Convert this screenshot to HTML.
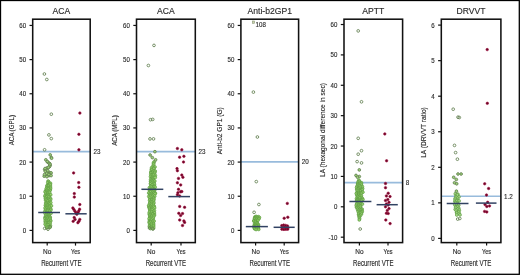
<!DOCTYPE html><html><head><meta charset="utf-8"><style>html,body{margin:0;padding:0;background:#fff;overflow:hidden;width:520px;height:275px;}svg{display:block;will-change:transform;}text{font-family:"Liberation Sans", sans-serif;}</style></head><body>
<svg width="520" height="275" viewBox="0 0 520 275">
<rect x="0" y="0" width="520" height="275" fill="#fff"/>
<text transform="translate(61.45,13.90) scale(1.000,1)" font-size="8.60" text-anchor="middle" fill="#2a2a2a" stroke="#2a2a2a" stroke-width="0.14" >ACA</text>
<line x1="32.7" x2="90.2" y1="151.6" y2="151.6" stroke="#98bbdc" stroke-width="1.6"/>
<text transform="translate(93.40,154.10) scale(0.900,1)" font-size="7.00" text-anchor="start" fill="#2a2a2a" stroke="#2a2a2a" stroke-width="0.14" >23</text>
<circle cx="48.1" cy="181.1" r="1.45" fill="#99d46f" stroke="#58953c" stroke-width="0.6"/>
<circle cx="48.6" cy="181.7" r="1.45" fill="#99d46f" stroke="#58953c" stroke-width="0.6"/>
<circle cx="47.8" cy="182.8" r="1.45" fill="#99d46f" stroke="#58953c" stroke-width="0.6"/>
<circle cx="49.2" cy="183.4" r="1.45" fill="#99d46f" stroke="#58953c" stroke-width="0.6"/>
<circle cx="50.5" cy="183.3" r="1.45" fill="#99d46f" stroke="#58953c" stroke-width="0.6"/>
<circle cx="48.2" cy="184.6" r="1.45" fill="#99d46f" stroke="#58953c" stroke-width="0.6"/>
<circle cx="49.9" cy="184.1" r="1.45" fill="#99d46f" stroke="#58953c" stroke-width="0.6"/>
<circle cx="47.0" cy="185.6" r="1.45" fill="#99d46f" stroke="#58953c" stroke-width="0.6"/>
<circle cx="48.7" cy="185.5" r="1.45" fill="#99d46f" stroke="#58953c" stroke-width="0.6"/>
<circle cx="50.4" cy="185.0" r="1.45" fill="#99d46f" stroke="#58953c" stroke-width="0.6"/>
<circle cx="47.0" cy="186.4" r="1.45" fill="#99d46f" stroke="#58953c" stroke-width="0.6"/>
<circle cx="48.5" cy="186.4" r="1.45" fill="#99d46f" stroke="#58953c" stroke-width="0.6"/>
<circle cx="50.3" cy="186.6" r="1.45" fill="#99d46f" stroke="#58953c" stroke-width="0.6"/>
<circle cx="47.0" cy="187.8" r="1.45" fill="#99d46f" stroke="#58953c" stroke-width="0.6"/>
<circle cx="48.9" cy="187.9" r="1.45" fill="#99d46f" stroke="#58953c" stroke-width="0.6"/>
<circle cx="50.4" cy="187.7" r="1.45" fill="#99d46f" stroke="#58953c" stroke-width="0.6"/>
<circle cx="46.2" cy="188.7" r="1.45" fill="#99d46f" stroke="#58953c" stroke-width="0.6"/>
<circle cx="48.7" cy="188.9" r="1.45" fill="#99d46f" stroke="#58953c" stroke-width="0.6"/>
<circle cx="50.5" cy="188.7" r="1.45" fill="#99d46f" stroke="#58953c" stroke-width="0.6"/>
<circle cx="46.5" cy="190.1" r="1.45" fill="#99d46f" stroke="#58953c" stroke-width="0.6"/>
<circle cx="48.2" cy="189.3" r="1.45" fill="#99d46f" stroke="#58953c" stroke-width="0.6"/>
<circle cx="50.2" cy="190.1" r="1.45" fill="#99d46f" stroke="#58953c" stroke-width="0.6"/>
<circle cx="45.6" cy="190.9" r="1.45" fill="#99d46f" stroke="#58953c" stroke-width="0.6"/>
<circle cx="47.0" cy="190.5" r="1.45" fill="#99d46f" stroke="#58953c" stroke-width="0.6"/>
<circle cx="48.1" cy="191.0" r="1.45" fill="#99d46f" stroke="#58953c" stroke-width="0.6"/>
<circle cx="49.7" cy="190.7" r="1.45" fill="#99d46f" stroke="#58953c" stroke-width="0.6"/>
<circle cx="45.1" cy="191.9" r="1.45" fill="#99d46f" stroke="#58953c" stroke-width="0.6"/>
<circle cx="47.6" cy="192.2" r="1.45" fill="#99d46f" stroke="#58953c" stroke-width="0.6"/>
<circle cx="48.9" cy="191.8" r="1.45" fill="#99d46f" stroke="#58953c" stroke-width="0.6"/>
<circle cx="46.1" cy="192.7" r="1.45" fill="#99d46f" stroke="#58953c" stroke-width="0.6"/>
<circle cx="47.7" cy="193.0" r="1.45" fill="#99d46f" stroke="#58953c" stroke-width="0.6"/>
<circle cx="49.6" cy="192.6" r="1.45" fill="#99d46f" stroke="#58953c" stroke-width="0.6"/>
<circle cx="45.6" cy="194.4" r="1.45" fill="#99d46f" stroke="#58953c" stroke-width="0.6"/>
<circle cx="47.5" cy="194.1" r="1.45" fill="#99d46f" stroke="#58953c" stroke-width="0.6"/>
<circle cx="49.2" cy="194.4" r="1.45" fill="#99d46f" stroke="#58953c" stroke-width="0.6"/>
<circle cx="46.5" cy="195.1" r="1.45" fill="#99d46f" stroke="#58953c" stroke-width="0.6"/>
<circle cx="47.6" cy="195.2" r="1.45" fill="#99d46f" stroke="#58953c" stroke-width="0.6"/>
<circle cx="49.0" cy="194.9" r="1.45" fill="#99d46f" stroke="#58953c" stroke-width="0.6"/>
<circle cx="50.7" cy="194.8" r="1.45" fill="#99d46f" stroke="#58953c" stroke-width="0.6"/>
<circle cx="44.9" cy="196.1" r="1.45" fill="#99d46f" stroke="#58953c" stroke-width="0.6"/>
<circle cx="46.8" cy="196.3" r="1.45" fill="#99d46f" stroke="#58953c" stroke-width="0.6"/>
<circle cx="47.8" cy="196.1" r="1.45" fill="#99d46f" stroke="#58953c" stroke-width="0.6"/>
<circle cx="49.3" cy="196.5" r="1.45" fill="#99d46f" stroke="#58953c" stroke-width="0.6"/>
<circle cx="45.6" cy="197.0" r="1.45" fill="#99d46f" stroke="#58953c" stroke-width="0.6"/>
<circle cx="46.9" cy="197.1" r="1.45" fill="#99d46f" stroke="#58953c" stroke-width="0.6"/>
<circle cx="48.9" cy="196.9" r="1.45" fill="#99d46f" stroke="#58953c" stroke-width="0.6"/>
<circle cx="45.4" cy="198.4" r="1.45" fill="#99d46f" stroke="#58953c" stroke-width="0.6"/>
<circle cx="47.1" cy="198.8" r="1.45" fill="#99d46f" stroke="#58953c" stroke-width="0.6"/>
<circle cx="49.4" cy="198.2" r="1.45" fill="#99d46f" stroke="#58953c" stroke-width="0.6"/>
<circle cx="50.6" cy="198.6" r="1.45" fill="#99d46f" stroke="#58953c" stroke-width="0.6"/>
<circle cx="45.9" cy="199.3" r="1.45" fill="#99d46f" stroke="#58953c" stroke-width="0.6"/>
<circle cx="48.6" cy="199.8" r="1.45" fill="#99d46f" stroke="#58953c" stroke-width="0.6"/>
<circle cx="50.6" cy="199.7" r="1.45" fill="#99d46f" stroke="#58953c" stroke-width="0.6"/>
<circle cx="45.6" cy="200.2" r="1.45" fill="#99d46f" stroke="#58953c" stroke-width="0.6"/>
<circle cx="46.8" cy="200.4" r="1.45" fill="#99d46f" stroke="#58953c" stroke-width="0.6"/>
<circle cx="49.4" cy="200.5" r="1.45" fill="#99d46f" stroke="#58953c" stroke-width="0.6"/>
<circle cx="46.7" cy="201.6" r="1.45" fill="#99d46f" stroke="#58953c" stroke-width="0.6"/>
<circle cx="47.7" cy="201.4" r="1.45" fill="#99d46f" stroke="#58953c" stroke-width="0.6"/>
<circle cx="49.5" cy="202.0" r="1.45" fill="#99d46f" stroke="#58953c" stroke-width="0.6"/>
<circle cx="45.7" cy="203.0" r="1.45" fill="#99d46f" stroke="#58953c" stroke-width="0.6"/>
<circle cx="47.1" cy="203.1" r="1.45" fill="#99d46f" stroke="#58953c" stroke-width="0.6"/>
<circle cx="49.3" cy="202.7" r="1.45" fill="#99d46f" stroke="#58953c" stroke-width="0.6"/>
<circle cx="50.8" cy="202.6" r="1.45" fill="#99d46f" stroke="#58953c" stroke-width="0.6"/>
<circle cx="46.2" cy="203.8" r="1.45" fill="#99d46f" stroke="#58953c" stroke-width="0.6"/>
<circle cx="48.8" cy="203.6" r="1.45" fill="#99d46f" stroke="#58953c" stroke-width="0.6"/>
<circle cx="49.7" cy="204.2" r="1.45" fill="#99d46f" stroke="#58953c" stroke-width="0.6"/>
<circle cx="45.4" cy="205.3" r="1.45" fill="#99d46f" stroke="#58953c" stroke-width="0.6"/>
<circle cx="47.0" cy="205.0" r="1.45" fill="#99d46f" stroke="#58953c" stroke-width="0.6"/>
<circle cx="48.1" cy="205.3" r="1.45" fill="#99d46f" stroke="#58953c" stroke-width="0.6"/>
<circle cx="50.5" cy="205.3" r="1.45" fill="#99d46f" stroke="#58953c" stroke-width="0.6"/>
<circle cx="46.4" cy="205.8" r="1.45" fill="#99d46f" stroke="#58953c" stroke-width="0.6"/>
<circle cx="47.5" cy="205.8" r="1.45" fill="#99d46f" stroke="#58953c" stroke-width="0.6"/>
<circle cx="49.4" cy="205.9" r="1.45" fill="#99d46f" stroke="#58953c" stroke-width="0.6"/>
<circle cx="51.4" cy="205.9" r="1.45" fill="#99d46f" stroke="#58953c" stroke-width="0.6"/>
<circle cx="46.0" cy="207.0" r="1.45" fill="#99d46f" stroke="#58953c" stroke-width="0.6"/>
<circle cx="48.0" cy="207.1" r="1.45" fill="#99d46f" stroke="#58953c" stroke-width="0.6"/>
<circle cx="49.4" cy="207.1" r="1.45" fill="#99d46f" stroke="#58953c" stroke-width="0.6"/>
<circle cx="45.1" cy="207.9" r="1.45" fill="#99d46f" stroke="#58953c" stroke-width="0.6"/>
<circle cx="46.8" cy="208.2" r="1.45" fill="#99d46f" stroke="#58953c" stroke-width="0.6"/>
<circle cx="48.3" cy="208.2" r="1.45" fill="#99d46f" stroke="#58953c" stroke-width="0.6"/>
<circle cx="50.1" cy="208.2" r="1.45" fill="#99d46f" stroke="#58953c" stroke-width="0.6"/>
<circle cx="45.5" cy="209.3" r="1.45" fill="#99d46f" stroke="#58953c" stroke-width="0.6"/>
<circle cx="47.3" cy="209.6" r="1.45" fill="#99d46f" stroke="#58953c" stroke-width="0.6"/>
<circle cx="49.0" cy="209.3" r="1.45" fill="#99d46f" stroke="#58953c" stroke-width="0.6"/>
<circle cx="50.9" cy="209.2" r="1.45" fill="#99d46f" stroke="#58953c" stroke-width="0.6"/>
<circle cx="45.9" cy="210.5" r="1.45" fill="#99d46f" stroke="#58953c" stroke-width="0.6"/>
<circle cx="48.1" cy="210.2" r="1.45" fill="#99d46f" stroke="#58953c" stroke-width="0.6"/>
<circle cx="50.0" cy="210.6" r="1.45" fill="#99d46f" stroke="#58953c" stroke-width="0.6"/>
<circle cx="50.7" cy="210.3" r="1.45" fill="#99d46f" stroke="#58953c" stroke-width="0.6"/>
<circle cx="44.8" cy="211.6" r="1.45" fill="#99d46f" stroke="#58953c" stroke-width="0.6"/>
<circle cx="47.6" cy="211.2" r="1.45" fill="#99d46f" stroke="#58953c" stroke-width="0.6"/>
<circle cx="49.4" cy="211.2" r="1.45" fill="#99d46f" stroke="#58953c" stroke-width="0.6"/>
<circle cx="46.0" cy="212.9" r="1.45" fill="#99d46f" stroke="#58953c" stroke-width="0.6"/>
<circle cx="47.9" cy="212.9" r="1.45" fill="#99d46f" stroke="#58953c" stroke-width="0.6"/>
<circle cx="49.8" cy="212.5" r="1.45" fill="#99d46f" stroke="#58953c" stroke-width="0.6"/>
<circle cx="45.1" cy="213.5" r="1.45" fill="#99d46f" stroke="#58953c" stroke-width="0.6"/>
<circle cx="47.0" cy="213.7" r="1.45" fill="#99d46f" stroke="#58953c" stroke-width="0.6"/>
<circle cx="48.7" cy="213.5" r="1.45" fill="#99d46f" stroke="#58953c" stroke-width="0.6"/>
<circle cx="51.0" cy="213.3" r="1.45" fill="#99d46f" stroke="#58953c" stroke-width="0.6"/>
<circle cx="46.3" cy="214.4" r="1.45" fill="#99d46f" stroke="#58953c" stroke-width="0.6"/>
<circle cx="47.2" cy="214.9" r="1.45" fill="#99d46f" stroke="#58953c" stroke-width="0.6"/>
<circle cx="48.8" cy="214.7" r="1.45" fill="#99d46f" stroke="#58953c" stroke-width="0.6"/>
<circle cx="45.8" cy="215.5" r="1.45" fill="#99d46f" stroke="#58953c" stroke-width="0.6"/>
<circle cx="48.3" cy="216.0" r="1.45" fill="#99d46f" stroke="#58953c" stroke-width="0.6"/>
<circle cx="49.3" cy="216.0" r="1.45" fill="#99d46f" stroke="#58953c" stroke-width="0.6"/>
<circle cx="45.3" cy="217.0" r="1.45" fill="#99d46f" stroke="#58953c" stroke-width="0.6"/>
<circle cx="46.8" cy="217.2" r="1.45" fill="#99d46f" stroke="#58953c" stroke-width="0.6"/>
<circle cx="48.8" cy="216.9" r="1.45" fill="#99d46f" stroke="#58953c" stroke-width="0.6"/>
<circle cx="50.2" cy="217.2" r="1.45" fill="#99d46f" stroke="#58953c" stroke-width="0.6"/>
<circle cx="45.1" cy="217.8" r="1.45" fill="#99d46f" stroke="#58953c" stroke-width="0.6"/>
<circle cx="46.3" cy="217.6" r="1.45" fill="#99d46f" stroke="#58953c" stroke-width="0.6"/>
<circle cx="47.9" cy="217.8" r="1.45" fill="#99d46f" stroke="#58953c" stroke-width="0.6"/>
<circle cx="49.9" cy="218.0" r="1.45" fill="#99d46f" stroke="#58953c" stroke-width="0.6"/>
<circle cx="45.1" cy="218.9" r="1.45" fill="#99d46f" stroke="#58953c" stroke-width="0.6"/>
<circle cx="47.0" cy="219.1" r="1.45" fill="#99d46f" stroke="#58953c" stroke-width="0.6"/>
<circle cx="48.3" cy="219.4" r="1.45" fill="#99d46f" stroke="#58953c" stroke-width="0.6"/>
<circle cx="50.0" cy="219.0" r="1.45" fill="#99d46f" stroke="#58953c" stroke-width="0.6"/>
<circle cx="46.1" cy="220.2" r="1.45" fill="#99d46f" stroke="#58953c" stroke-width="0.6"/>
<circle cx="48.6" cy="220.0" r="1.45" fill="#99d46f" stroke="#58953c" stroke-width="0.6"/>
<circle cx="50.5" cy="220.3" r="1.45" fill="#99d46f" stroke="#58953c" stroke-width="0.6"/>
<circle cx="45.2" cy="220.9" r="1.45" fill="#99d46f" stroke="#58953c" stroke-width="0.6"/>
<circle cx="47.1" cy="221.0" r="1.45" fill="#99d46f" stroke="#58953c" stroke-width="0.6"/>
<circle cx="48.1" cy="221.5" r="1.45" fill="#99d46f" stroke="#58953c" stroke-width="0.6"/>
<circle cx="50.7" cy="221.1" r="1.45" fill="#99d46f" stroke="#58953c" stroke-width="0.6"/>
<circle cx="45.5" cy="222.1" r="1.45" fill="#99d46f" stroke="#58953c" stroke-width="0.6"/>
<circle cx="47.1" cy="222.7" r="1.45" fill="#99d46f" stroke="#58953c" stroke-width="0.6"/>
<circle cx="49.6" cy="222.1" r="1.45" fill="#99d46f" stroke="#58953c" stroke-width="0.6"/>
<circle cx="45.6" cy="223.0" r="1.45" fill="#99d46f" stroke="#58953c" stroke-width="0.6"/>
<circle cx="47.4" cy="223.4" r="1.45" fill="#99d46f" stroke="#58953c" stroke-width="0.6"/>
<circle cx="48.9" cy="223.0" r="1.45" fill="#99d46f" stroke="#58953c" stroke-width="0.6"/>
<circle cx="50.1" cy="223.3" r="1.45" fill="#99d46f" stroke="#58953c" stroke-width="0.6"/>
<circle cx="45.2" cy="224.3" r="1.45" fill="#99d46f" stroke="#58953c" stroke-width="0.6"/>
<circle cx="47.3" cy="224.7" r="1.45" fill="#99d46f" stroke="#58953c" stroke-width="0.6"/>
<circle cx="49.4" cy="224.8" r="1.45" fill="#99d46f" stroke="#58953c" stroke-width="0.6"/>
<circle cx="46.3" cy="225.3" r="1.45" fill="#99d46f" stroke="#58953c" stroke-width="0.6"/>
<circle cx="48.1" cy="225.2" r="1.45" fill="#99d46f" stroke="#58953c" stroke-width="0.6"/>
<circle cx="50.4" cy="225.7" r="1.45" fill="#99d46f" stroke="#58953c" stroke-width="0.6"/>
<circle cx="46.5" cy="226.7" r="1.45" fill="#99d46f" stroke="#58953c" stroke-width="0.6"/>
<circle cx="48.8" cy="226.9" r="1.45" fill="#99d46f" stroke="#58953c" stroke-width="0.6"/>
<circle cx="46.8" cy="227.9" r="1.45" fill="#99d46f" stroke="#58953c" stroke-width="0.6"/>
<circle cx="48.3" cy="227.4" r="1.45" fill="#99d46f" stroke="#58953c" stroke-width="0.6"/>
<circle cx="49.9" cy="227.4" r="1.45" fill="#99d46f" stroke="#58953c" stroke-width="0.6"/>
<circle cx="44.4" cy="74.0" r="1.35" fill="none" stroke="#627f50" stroke-width="0.85"/>
<circle cx="46.8" cy="79.5" r="1.35" fill="none" stroke="#627f50" stroke-width="0.85"/>
<circle cx="51.3" cy="114.2" r="1.35" fill="none" stroke="#627f50" stroke-width="0.85"/>
<circle cx="48.9" cy="134.9" r="1.35" fill="none" stroke="#627f50" stroke-width="0.85"/>
<circle cx="51.3" cy="138.6" r="1.35" fill="none" stroke="#627f50" stroke-width="0.85"/>
<circle cx="44.6" cy="149.8" r="1.35" fill="none" stroke="#627f50" stroke-width="0.85"/>
<circle cx="50.2" cy="154.9" r="1.35" fill="#9fd27b" stroke="#627f50" stroke-width="0.85"/>
<circle cx="51.3" cy="157.6" r="1.35" fill="#9fd27b" stroke="#627f50" stroke-width="0.85"/>
<circle cx="45.8" cy="159.8" r="1.35" fill="#9fd27b" stroke="#627f50" stroke-width="0.85"/>
<circle cx="47.5" cy="162.0" r="1.35" fill="#9fd27b" stroke="#627f50" stroke-width="0.85"/>
<circle cx="49.6" cy="163.6" r="1.35" fill="#9fd27b" stroke="#627f50" stroke-width="0.85"/>
<circle cx="50.2" cy="165.3" r="1.35" fill="#9fd27b" stroke="#627f50" stroke-width="0.85"/>
<circle cx="49.1" cy="166.9" r="1.35" fill="#9fd27b" stroke="#627f50" stroke-width="0.85"/>
<circle cx="46.9" cy="168.0" r="1.35" fill="#9fd27b" stroke="#627f50" stroke-width="0.85"/>
<circle cx="44.7" cy="169.6" r="1.35" fill="#9fd27b" stroke="#627f50" stroke-width="0.85"/>
<circle cx="45.3" cy="171.3" r="1.35" fill="#9fd27b" stroke="#627f50" stroke-width="0.85"/>
<circle cx="48.0" cy="171.8" r="1.35" fill="#9fd27b" stroke="#627f50" stroke-width="0.85"/>
<circle cx="50.2" cy="172.9" r="1.35" fill="#9fd27b" stroke="#627f50" stroke-width="0.85"/>
<circle cx="46.4" cy="174.0" r="1.35" fill="#9fd27b" stroke="#627f50" stroke-width="0.85"/>
<circle cx="44.2" cy="176.2" r="1.35" fill="#9fd27b" stroke="#627f50" stroke-width="0.85"/>
<circle cx="49.1" cy="175.6" r="1.35" fill="#9fd27b" stroke="#627f50" stroke-width="0.85"/>
<circle cx="46.9" cy="176.7" r="1.35" fill="#9fd27b" stroke="#627f50" stroke-width="0.85"/>
<circle cx="44.7" cy="228.4" r="1.35" fill="none" stroke="#627f50" stroke-width="0.85"/>
<circle cx="48.0" cy="229.2" r="1.35" fill="none" stroke="#627f50" stroke-width="0.85"/>
<circle cx="50.2" cy="226.8" r="1.35" fill="none" stroke="#627f50" stroke-width="0.85"/>
<circle cx="51.6" cy="158.2" r="1.35" fill="#9fd27b" stroke="#627f50" stroke-width="0.85"/>
<circle cx="48.9" cy="163.1" r="1.35" fill="#9fd27b" stroke="#627f50" stroke-width="0.85"/>
<circle cx="50.0" cy="164.2" r="1.35" fill="#9fd27b" stroke="#627f50" stroke-width="0.85"/>
<circle cx="49.5" cy="166.4" r="1.35" fill="#9fd27b" stroke="#627f50" stroke-width="0.85"/>
<circle cx="48.4" cy="167.4" r="1.35" fill="#9fd27b" stroke="#627f50" stroke-width="0.85"/>
<circle cx="45.1" cy="168.5" r="1.35" fill="#9fd27b" stroke="#627f50" stroke-width="0.85"/>
<circle cx="47.8" cy="170.7" r="1.35" fill="#9fd27b" stroke="#627f50" stroke-width="0.85"/>
<circle cx="51.1" cy="172.9" r="1.35" fill="#9fd27b" stroke="#627f50" stroke-width="0.85"/>
<circle cx="46.7" cy="173.4" r="1.35" fill="#9fd27b" stroke="#627f50" stroke-width="0.85"/>
<circle cx="44.5" cy="174.5" r="1.35" fill="#9fd27b" stroke="#627f50" stroke-width="0.85"/>
<circle cx="48.9" cy="174.5" r="1.35" fill="#9fd27b" stroke="#627f50" stroke-width="0.85"/>
<circle cx="51.1" cy="175.6" r="1.35" fill="#9fd27b" stroke="#627f50" stroke-width="0.85"/>
<circle cx="47.3" cy="161.5" r="1.35" fill="#9fd27b" stroke="#627f50" stroke-width="0.85"/>
<circle cx="79.9" cy="113.1" r="1.25" fill="#6a0726" stroke="#a30f40" stroke-width="0.6"/>
<circle cx="78.9" cy="134.3" r="1.25" fill="#6a0726" stroke="#a30f40" stroke-width="0.6"/>
<circle cx="78.9" cy="149.8" r="1.25" fill="#6a0726" stroke="#a30f40" stroke-width="0.6"/>
<circle cx="73.6" cy="172.9" r="1.25" fill="#6a0726" stroke="#a30f40" stroke-width="0.6"/>
<circle cx="78.7" cy="182.6" r="1.25" fill="#6a0726" stroke="#a30f40" stroke-width="0.6"/>
<circle cx="78.9" cy="187.3" r="1.25" fill="#6a0726" stroke="#a30f40" stroke-width="0.6"/>
<circle cx="74.3" cy="193.6" r="1.25" fill="#6a0726" stroke="#a30f40" stroke-width="0.6"/>
<circle cx="74.3" cy="197.1" r="1.25" fill="#6a0726" stroke="#a30f40" stroke-width="0.6"/>
<circle cx="79.8" cy="204.5" r="1.25" fill="#6a0726" stroke="#a30f40" stroke-width="0.6"/>
<circle cx="72.9" cy="208.0" r="1.25" fill="#6a0726" stroke="#a30f40" stroke-width="0.6"/>
<circle cx="73.9" cy="209.6" r="1.25" fill="#6a0726" stroke="#a30f40" stroke-width="0.6"/>
<circle cx="75.0" cy="211.2" r="1.25" fill="#6a0726" stroke="#a30f40" stroke-width="0.6"/>
<circle cx="76.0" cy="212.8" r="1.25" fill="#6a0726" stroke="#a30f40" stroke-width="0.6"/>
<circle cx="76.8" cy="214.2" r="1.25" fill="#6a0726" stroke="#a30f40" stroke-width="0.6"/>
<circle cx="79.6" cy="209.2" r="1.25" fill="#6a0726" stroke="#a30f40" stroke-width="0.6"/>
<circle cx="78.8" cy="210.9" r="1.25" fill="#6a0726" stroke="#a30f40" stroke-width="0.6"/>
<circle cx="78.0" cy="212.6" r="1.25" fill="#6a0726" stroke="#a30f40" stroke-width="0.6"/>
<circle cx="74.2" cy="217.5" r="1.25" fill="#6a0726" stroke="#a30f40" stroke-width="0.6"/>
<circle cx="73.2" cy="221.3" r="1.25" fill="#6a0726" stroke="#a30f40" stroke-width="0.6"/>
<circle cx="75.1" cy="219.4" r="1.25" fill="#6a0726" stroke="#a30f40" stroke-width="0.6"/>
<circle cx="79.8" cy="219.4" r="1.25" fill="#6a0726" stroke="#a30f40" stroke-width="0.6"/>
<circle cx="77.9" cy="222.7" r="1.25" fill="#6a0726" stroke="#a30f40" stroke-width="0.6"/>
<circle cx="78.9" cy="221.3" r="1.25" fill="#6a0726" stroke="#a30f40" stroke-width="0.6"/>
<line x1="38.2" x2="60.0" y1="212.5" y2="212.5" stroke="#314262" stroke-width="1.5"/>
<line x1="65.4" x2="86.7" y1="213.8" y2="213.8" stroke="#314262" stroke-width="1.5"/>
<rect x="32.70" y="19.20" width="57.50" height="223.40" fill="none" stroke="#111" stroke-width="1.55"/>
<line x1="29.5" x2="32.7" y1="230.40" y2="230.40" stroke="#111" stroke-width="1.2"/>
<text transform="translate(26.10,232.95) scale(0.860,1)" font-size="7.10" text-anchor="end" fill="#2a2a2a" stroke="#2a2a2a" stroke-width="0.14" >0</text>
<line x1="29.5" x2="32.7" y1="196.24" y2="196.24" stroke="#111" stroke-width="1.2"/>
<text transform="translate(26.10,198.79) scale(0.860,1)" font-size="7.10" text-anchor="end" fill="#2a2a2a" stroke="#2a2a2a" stroke-width="0.14" >10</text>
<line x1="29.5" x2="32.7" y1="162.08" y2="162.08" stroke="#111" stroke-width="1.2"/>
<text transform="translate(26.10,164.63) scale(0.860,1)" font-size="7.10" text-anchor="end" fill="#2a2a2a" stroke="#2a2a2a" stroke-width="0.14" >20</text>
<line x1="29.5" x2="32.7" y1="127.92" y2="127.92" stroke="#111" stroke-width="1.2"/>
<text transform="translate(26.10,130.47) scale(0.860,1)" font-size="7.10" text-anchor="end" fill="#2a2a2a" stroke="#2a2a2a" stroke-width="0.14" >30</text>
<line x1="29.5" x2="32.7" y1="93.76" y2="93.76" stroke="#111" stroke-width="1.2"/>
<text transform="translate(26.10,96.31) scale(0.860,1)" font-size="7.10" text-anchor="end" fill="#2a2a2a" stroke="#2a2a2a" stroke-width="0.14" >40</text>
<line x1="29.5" x2="32.7" y1="59.60" y2="59.60" stroke="#111" stroke-width="1.2"/>
<text transform="translate(26.10,62.15) scale(0.860,1)" font-size="7.10" text-anchor="end" fill="#2a2a2a" stroke="#2a2a2a" stroke-width="0.14" >50</text>
<line x1="29.5" x2="32.7" y1="25.44" y2="25.44" stroke="#111" stroke-width="1.2"/>
<text transform="translate(26.10,27.99) scale(0.860,1)" font-size="7.10" text-anchor="end" fill="#2a2a2a" stroke="#2a2a2a" stroke-width="0.14" >60</text>
<line x1="47.2" x2="47.2" y1="242.6" y2="245.6" stroke="#111" stroke-width="1.2"/>
<text transform="translate(47.20,254.45) scale(1.000,1)" font-size="6.60" text-anchor="middle" fill="#2a2a2a" stroke="#2a2a2a" stroke-width="0.14" textLength="8.3" lengthAdjust="spacingAndGlyphs">No</text>
<line x1="75.5" x2="75.5" y1="242.6" y2="245.6" stroke="#111" stroke-width="1.2"/>
<text transform="translate(75.50,254.45) scale(1.000,1)" font-size="6.60" text-anchor="middle" fill="#2a2a2a" stroke="#2a2a2a" stroke-width="0.14" textLength="9.0" lengthAdjust="spacingAndGlyphs">Yes</text>
<text transform="translate(61.45,266.00) scale(1.000,1)" font-size="8.50" text-anchor="middle" fill="#2a2a2a" stroke="#2a2a2a" stroke-width="0.14" textLength="40.5" lengthAdjust="spacingAndGlyphs">Recurrent VTE</text>
<text transform="translate(14.3,130.2) rotate(-90)" x="0" y="0" font-size="7.5" text-anchor="middle" textLength="30.3" lengthAdjust="spacingAndGlyphs" fill="#2a2a2a" stroke="#2a2a2a" stroke-width="0.14">ACA (GPL)</text>
<text transform="translate(165.90,13.90) scale(1.000,1)" font-size="8.60" text-anchor="middle" fill="#2a2a2a" stroke="#2a2a2a" stroke-width="0.14" >ACA</text>
<line x1="136.5" x2="195.3" y1="151.6" y2="151.6" stroke="#98bbdc" stroke-width="1.6"/>
<text transform="translate(198.50,154.10) scale(0.900,1)" font-size="7.00" text-anchor="start" fill="#2a2a2a" stroke="#2a2a2a" stroke-width="0.14" >23</text>
<circle cx="154.4" cy="161.6" r="1.45" fill="#99d46f" stroke="#58953c" stroke-width="0.6"/>
<circle cx="153.5" cy="162.8" r="1.45" fill="#99d46f" stroke="#58953c" stroke-width="0.6"/>
<circle cx="153.7" cy="163.8" r="1.45" fill="#99d46f" stroke="#58953c" stroke-width="0.6"/>
<circle cx="153.5" cy="164.4" r="1.45" fill="#99d46f" stroke="#58953c" stroke-width="0.6"/>
<circle cx="153.2" cy="166.0" r="1.45" fill="#99d46f" stroke="#58953c" stroke-width="0.6"/>
<circle cx="152.7" cy="166.9" r="1.45" fill="#99d46f" stroke="#58953c" stroke-width="0.6"/>
<circle cx="155.0" cy="167.0" r="1.45" fill="#99d46f" stroke="#58953c" stroke-width="0.6"/>
<circle cx="151.6" cy="167.8" r="1.45" fill="#99d46f" stroke="#58953c" stroke-width="0.6"/>
<circle cx="153.8" cy="168.1" r="1.45" fill="#99d46f" stroke="#58953c" stroke-width="0.6"/>
<circle cx="151.4" cy="169.3" r="1.45" fill="#99d46f" stroke="#58953c" stroke-width="0.6"/>
<circle cx="153.8" cy="168.9" r="1.45" fill="#99d46f" stroke="#58953c" stroke-width="0.6"/>
<circle cx="151.9" cy="169.9" r="1.45" fill="#99d46f" stroke="#58953c" stroke-width="0.6"/>
<circle cx="153.9" cy="170.6" r="1.45" fill="#99d46f" stroke="#58953c" stroke-width="0.6"/>
<circle cx="151.0" cy="171.5" r="1.45" fill="#99d46f" stroke="#58953c" stroke-width="0.6"/>
<circle cx="153.3" cy="171.1" r="1.45" fill="#99d46f" stroke="#58953c" stroke-width="0.6"/>
<circle cx="155.2" cy="171.1" r="1.45" fill="#99d46f" stroke="#58953c" stroke-width="0.6"/>
<circle cx="151.0" cy="172.7" r="1.45" fill="#99d46f" stroke="#58953c" stroke-width="0.6"/>
<circle cx="152.7" cy="172.4" r="1.45" fill="#99d46f" stroke="#58953c" stroke-width="0.6"/>
<circle cx="154.8" cy="172.2" r="1.45" fill="#99d46f" stroke="#58953c" stroke-width="0.6"/>
<circle cx="151.0" cy="173.1" r="1.45" fill="#99d46f" stroke="#58953c" stroke-width="0.6"/>
<circle cx="153.1" cy="173.3" r="1.45" fill="#99d46f" stroke="#58953c" stroke-width="0.6"/>
<circle cx="154.5" cy="173.3" r="1.45" fill="#99d46f" stroke="#58953c" stroke-width="0.6"/>
<circle cx="150.8" cy="174.8" r="1.45" fill="#99d46f" stroke="#58953c" stroke-width="0.6"/>
<circle cx="152.3" cy="174.7" r="1.45" fill="#99d46f" stroke="#58953c" stroke-width="0.6"/>
<circle cx="154.0" cy="174.4" r="1.45" fill="#99d46f" stroke="#58953c" stroke-width="0.6"/>
<circle cx="152.0" cy="175.5" r="1.45" fill="#99d46f" stroke="#58953c" stroke-width="0.6"/>
<circle cx="153.5" cy="175.3" r="1.45" fill="#99d46f" stroke="#58953c" stroke-width="0.6"/>
<circle cx="155.3" cy="175.5" r="1.45" fill="#99d46f" stroke="#58953c" stroke-width="0.6"/>
<circle cx="150.5" cy="176.7" r="1.45" fill="#99d46f" stroke="#58953c" stroke-width="0.6"/>
<circle cx="152.1" cy="177.1" r="1.45" fill="#99d46f" stroke="#58953c" stroke-width="0.6"/>
<circle cx="154.7" cy="176.8" r="1.45" fill="#99d46f" stroke="#58953c" stroke-width="0.6"/>
<circle cx="151.7" cy="178.0" r="1.45" fill="#99d46f" stroke="#58953c" stroke-width="0.6"/>
<circle cx="153.2" cy="177.8" r="1.45" fill="#99d46f" stroke="#58953c" stroke-width="0.6"/>
<circle cx="155.2" cy="177.6" r="1.45" fill="#99d46f" stroke="#58953c" stroke-width="0.6"/>
<circle cx="151.2" cy="178.9" r="1.45" fill="#99d46f" stroke="#58953c" stroke-width="0.6"/>
<circle cx="153.0" cy="179.1" r="1.45" fill="#99d46f" stroke="#58953c" stroke-width="0.6"/>
<circle cx="150.6" cy="179.8" r="1.45" fill="#99d46f" stroke="#58953c" stroke-width="0.6"/>
<circle cx="152.2" cy="179.7" r="1.45" fill="#99d46f" stroke="#58953c" stroke-width="0.6"/>
<circle cx="153.6" cy="180.3" r="1.45" fill="#99d46f" stroke="#58953c" stroke-width="0.6"/>
<circle cx="150.6" cy="181.5" r="1.45" fill="#99d46f" stroke="#58953c" stroke-width="0.6"/>
<circle cx="151.8" cy="180.8" r="1.45" fill="#99d46f" stroke="#58953c" stroke-width="0.6"/>
<circle cx="153.3" cy="180.7" r="1.45" fill="#99d46f" stroke="#58953c" stroke-width="0.6"/>
<circle cx="154.8" cy="181.1" r="1.45" fill="#99d46f" stroke="#58953c" stroke-width="0.6"/>
<circle cx="150.9" cy="182.1" r="1.45" fill="#99d46f" stroke="#58953c" stroke-width="0.6"/>
<circle cx="152.7" cy="182.0" r="1.45" fill="#99d46f" stroke="#58953c" stroke-width="0.6"/>
<circle cx="154.0" cy="182.5" r="1.45" fill="#99d46f" stroke="#58953c" stroke-width="0.6"/>
<circle cx="150.6" cy="183.5" r="1.45" fill="#99d46f" stroke="#58953c" stroke-width="0.6"/>
<circle cx="151.9" cy="183.0" r="1.45" fill="#99d46f" stroke="#58953c" stroke-width="0.6"/>
<circle cx="153.7" cy="183.6" r="1.45" fill="#99d46f" stroke="#58953c" stroke-width="0.6"/>
<circle cx="150.6" cy="184.0" r="1.45" fill="#99d46f" stroke="#58953c" stroke-width="0.6"/>
<circle cx="153.3" cy="184.3" r="1.45" fill="#99d46f" stroke="#58953c" stroke-width="0.6"/>
<circle cx="154.5" cy="184.3" r="1.45" fill="#99d46f" stroke="#58953c" stroke-width="0.6"/>
<circle cx="151.1" cy="185.8" r="1.45" fill="#99d46f" stroke="#58953c" stroke-width="0.6"/>
<circle cx="152.0" cy="185.1" r="1.45" fill="#99d46f" stroke="#58953c" stroke-width="0.6"/>
<circle cx="154.3" cy="185.8" r="1.45" fill="#99d46f" stroke="#58953c" stroke-width="0.6"/>
<circle cx="150.7" cy="186.5" r="1.45" fill="#99d46f" stroke="#58953c" stroke-width="0.6"/>
<circle cx="151.9" cy="186.7" r="1.45" fill="#99d46f" stroke="#58953c" stroke-width="0.6"/>
<circle cx="154.2" cy="186.6" r="1.45" fill="#99d46f" stroke="#58953c" stroke-width="0.6"/>
<circle cx="149.4" cy="187.7" r="1.45" fill="#99d46f" stroke="#58953c" stroke-width="0.6"/>
<circle cx="151.3" cy="187.3" r="1.45" fill="#99d46f" stroke="#58953c" stroke-width="0.6"/>
<circle cx="153.5" cy="187.5" r="1.45" fill="#99d46f" stroke="#58953c" stroke-width="0.6"/>
<circle cx="155.1" cy="187.2" r="1.45" fill="#99d46f" stroke="#58953c" stroke-width="0.6"/>
<circle cx="150.4" cy="188.8" r="1.45" fill="#99d46f" stroke="#58953c" stroke-width="0.6"/>
<circle cx="152.2" cy="188.5" r="1.45" fill="#99d46f" stroke="#58953c" stroke-width="0.6"/>
<circle cx="154.1" cy="188.9" r="1.45" fill="#99d46f" stroke="#58953c" stroke-width="0.6"/>
<circle cx="149.3" cy="189.9" r="1.45" fill="#99d46f" stroke="#58953c" stroke-width="0.6"/>
<circle cx="150.8" cy="189.9" r="1.45" fill="#99d46f" stroke="#58953c" stroke-width="0.6"/>
<circle cx="153.0" cy="189.4" r="1.45" fill="#99d46f" stroke="#58953c" stroke-width="0.6"/>
<circle cx="154.8" cy="189.9" r="1.45" fill="#99d46f" stroke="#58953c" stroke-width="0.6"/>
<circle cx="150.5" cy="190.9" r="1.45" fill="#99d46f" stroke="#58953c" stroke-width="0.6"/>
<circle cx="152.2" cy="190.7" r="1.45" fill="#99d46f" stroke="#58953c" stroke-width="0.6"/>
<circle cx="153.7" cy="190.6" r="1.45" fill="#99d46f" stroke="#58953c" stroke-width="0.6"/>
<circle cx="149.8" cy="191.9" r="1.45" fill="#99d46f" stroke="#58953c" stroke-width="0.6"/>
<circle cx="150.8" cy="191.9" r="1.45" fill="#99d46f" stroke="#58953c" stroke-width="0.6"/>
<circle cx="153.3" cy="191.7" r="1.45" fill="#99d46f" stroke="#58953c" stroke-width="0.6"/>
<circle cx="154.4" cy="192.3" r="1.45" fill="#99d46f" stroke="#58953c" stroke-width="0.6"/>
<circle cx="148.7" cy="193.0" r="1.45" fill="#99d46f" stroke="#58953c" stroke-width="0.6"/>
<circle cx="151.6" cy="193.2" r="1.45" fill="#99d46f" stroke="#58953c" stroke-width="0.6"/>
<circle cx="153.9" cy="192.9" r="1.45" fill="#99d46f" stroke="#58953c" stroke-width="0.6"/>
<circle cx="155.4" cy="193.2" r="1.45" fill="#99d46f" stroke="#58953c" stroke-width="0.6"/>
<circle cx="149.7" cy="194.0" r="1.45" fill="#99d46f" stroke="#58953c" stroke-width="0.6"/>
<circle cx="151.2" cy="193.7" r="1.45" fill="#99d46f" stroke="#58953c" stroke-width="0.6"/>
<circle cx="152.9" cy="194.5" r="1.45" fill="#99d46f" stroke="#58953c" stroke-width="0.6"/>
<circle cx="154.9" cy="193.9" r="1.45" fill="#99d46f" stroke="#58953c" stroke-width="0.6"/>
<circle cx="150.2" cy="195.2" r="1.45" fill="#99d46f" stroke="#58953c" stroke-width="0.6"/>
<circle cx="151.3" cy="195.1" r="1.45" fill="#99d46f" stroke="#58953c" stroke-width="0.6"/>
<circle cx="153.3" cy="195.1" r="1.45" fill="#99d46f" stroke="#58953c" stroke-width="0.6"/>
<circle cx="148.8" cy="196.5" r="1.45" fill="#99d46f" stroke="#58953c" stroke-width="0.6"/>
<circle cx="150.6" cy="195.9" r="1.45" fill="#99d46f" stroke="#58953c" stroke-width="0.6"/>
<circle cx="152.6" cy="196.1" r="1.45" fill="#99d46f" stroke="#58953c" stroke-width="0.6"/>
<circle cx="154.7" cy="196.2" r="1.45" fill="#99d46f" stroke="#58953c" stroke-width="0.6"/>
<circle cx="150.3" cy="197.2" r="1.45" fill="#99d46f" stroke="#58953c" stroke-width="0.6"/>
<circle cx="152.1" cy="197.2" r="1.45" fill="#99d46f" stroke="#58953c" stroke-width="0.6"/>
<circle cx="153.7" cy="197.7" r="1.45" fill="#99d46f" stroke="#58953c" stroke-width="0.6"/>
<circle cx="149.8" cy="198.3" r="1.45" fill="#99d46f" stroke="#58953c" stroke-width="0.6"/>
<circle cx="152.3" cy="198.8" r="1.45" fill="#99d46f" stroke="#58953c" stroke-width="0.6"/>
<circle cx="153.5" cy="198.4" r="1.45" fill="#99d46f" stroke="#58953c" stroke-width="0.6"/>
<circle cx="149.9" cy="199.8" r="1.45" fill="#99d46f" stroke="#58953c" stroke-width="0.6"/>
<circle cx="152.5" cy="199.8" r="1.45" fill="#99d46f" stroke="#58953c" stroke-width="0.6"/>
<circle cx="154.0" cy="199.4" r="1.45" fill="#99d46f" stroke="#58953c" stroke-width="0.6"/>
<circle cx="149.6" cy="200.4" r="1.45" fill="#99d46f" stroke="#58953c" stroke-width="0.6"/>
<circle cx="151.8" cy="200.3" r="1.45" fill="#99d46f" stroke="#58953c" stroke-width="0.6"/>
<circle cx="153.4" cy="200.5" r="1.45" fill="#99d46f" stroke="#58953c" stroke-width="0.6"/>
<circle cx="150.5" cy="201.5" r="1.45" fill="#99d46f" stroke="#58953c" stroke-width="0.6"/>
<circle cx="151.1" cy="201.7" r="1.45" fill="#99d46f" stroke="#58953c" stroke-width="0.6"/>
<circle cx="153.5" cy="201.5" r="1.45" fill="#99d46f" stroke="#58953c" stroke-width="0.6"/>
<circle cx="149.8" cy="203.0" r="1.45" fill="#99d46f" stroke="#58953c" stroke-width="0.6"/>
<circle cx="152.0" cy="202.5" r="1.45" fill="#99d46f" stroke="#58953c" stroke-width="0.6"/>
<circle cx="153.9" cy="202.9" r="1.45" fill="#99d46f" stroke="#58953c" stroke-width="0.6"/>
<circle cx="149.6" cy="203.7" r="1.45" fill="#99d46f" stroke="#58953c" stroke-width="0.6"/>
<circle cx="151.1" cy="204.2" r="1.45" fill="#99d46f" stroke="#58953c" stroke-width="0.6"/>
<circle cx="153.2" cy="203.8" r="1.45" fill="#99d46f" stroke="#58953c" stroke-width="0.6"/>
<circle cx="149.3" cy="205.2" r="1.45" fill="#99d46f" stroke="#58953c" stroke-width="0.6"/>
<circle cx="151.9" cy="204.7" r="1.45" fill="#99d46f" stroke="#58953c" stroke-width="0.6"/>
<circle cx="153.5" cy="205.3" r="1.45" fill="#99d46f" stroke="#58953c" stroke-width="0.6"/>
<circle cx="148.7" cy="205.8" r="1.45" fill="#99d46f" stroke="#58953c" stroke-width="0.6"/>
<circle cx="150.7" cy="206.2" r="1.45" fill="#99d46f" stroke="#58953c" stroke-width="0.6"/>
<circle cx="152.5" cy="206.4" r="1.45" fill="#99d46f" stroke="#58953c" stroke-width="0.6"/>
<circle cx="154.2" cy="206.3" r="1.45" fill="#99d46f" stroke="#58953c" stroke-width="0.6"/>
<circle cx="149.0" cy="207.3" r="1.45" fill="#99d46f" stroke="#58953c" stroke-width="0.6"/>
<circle cx="150.4" cy="206.9" r="1.45" fill="#99d46f" stroke="#58953c" stroke-width="0.6"/>
<circle cx="151.8" cy="207.3" r="1.45" fill="#99d46f" stroke="#58953c" stroke-width="0.6"/>
<circle cx="153.7" cy="206.8" r="1.45" fill="#99d46f" stroke="#58953c" stroke-width="0.6"/>
<circle cx="149.5" cy="208.1" r="1.45" fill="#99d46f" stroke="#58953c" stroke-width="0.6"/>
<circle cx="151.5" cy="208.3" r="1.45" fill="#99d46f" stroke="#58953c" stroke-width="0.6"/>
<circle cx="152.3" cy="208.2" r="1.45" fill="#99d46f" stroke="#58953c" stroke-width="0.6"/>
<circle cx="154.6" cy="207.9" r="1.45" fill="#99d46f" stroke="#58953c" stroke-width="0.6"/>
<circle cx="149.7" cy="209.2" r="1.45" fill="#99d46f" stroke="#58953c" stroke-width="0.6"/>
<circle cx="151.8" cy="209.2" r="1.45" fill="#99d46f" stroke="#58953c" stroke-width="0.6"/>
<circle cx="153.2" cy="209.3" r="1.45" fill="#99d46f" stroke="#58953c" stroke-width="0.6"/>
<circle cx="150.1" cy="210.2" r="1.45" fill="#99d46f" stroke="#58953c" stroke-width="0.6"/>
<circle cx="152.1" cy="210.0" r="1.45" fill="#99d46f" stroke="#58953c" stroke-width="0.6"/>
<circle cx="154.4" cy="210.7" r="1.45" fill="#99d46f" stroke="#58953c" stroke-width="0.6"/>
<circle cx="150.0" cy="211.3" r="1.45" fill="#99d46f" stroke="#58953c" stroke-width="0.6"/>
<circle cx="151.4" cy="211.6" r="1.45" fill="#99d46f" stroke="#58953c" stroke-width="0.6"/>
<circle cx="153.3" cy="211.6" r="1.45" fill="#99d46f" stroke="#58953c" stroke-width="0.6"/>
<circle cx="149.3" cy="212.4" r="1.45" fill="#99d46f" stroke="#58953c" stroke-width="0.6"/>
<circle cx="151.7" cy="212.3" r="1.45" fill="#99d46f" stroke="#58953c" stroke-width="0.6"/>
<circle cx="153.4" cy="213.0" r="1.45" fill="#99d46f" stroke="#58953c" stroke-width="0.6"/>
<circle cx="154.4" cy="213.0" r="1.45" fill="#99d46f" stroke="#58953c" stroke-width="0.6"/>
<circle cx="149.2" cy="214.0" r="1.45" fill="#99d46f" stroke="#58953c" stroke-width="0.6"/>
<circle cx="151.6" cy="213.8" r="1.45" fill="#99d46f" stroke="#58953c" stroke-width="0.6"/>
<circle cx="153.1" cy="213.9" r="1.45" fill="#99d46f" stroke="#58953c" stroke-width="0.6"/>
<circle cx="149.7" cy="215.1" r="1.45" fill="#99d46f" stroke="#58953c" stroke-width="0.6"/>
<circle cx="150.7" cy="214.7" r="1.45" fill="#99d46f" stroke="#58953c" stroke-width="0.6"/>
<circle cx="152.7" cy="214.5" r="1.45" fill="#99d46f" stroke="#58953c" stroke-width="0.6"/>
<circle cx="154.5" cy="215.1" r="1.45" fill="#99d46f" stroke="#58953c" stroke-width="0.6"/>
<circle cx="149.9" cy="215.5" r="1.45" fill="#99d46f" stroke="#58953c" stroke-width="0.6"/>
<circle cx="151.6" cy="216.0" r="1.45" fill="#99d46f" stroke="#58953c" stroke-width="0.6"/>
<circle cx="153.8" cy="215.7" r="1.45" fill="#99d46f" stroke="#58953c" stroke-width="0.6"/>
<circle cx="149.7" cy="217.1" r="1.45" fill="#99d46f" stroke="#58953c" stroke-width="0.6"/>
<circle cx="151.5" cy="216.6" r="1.45" fill="#99d46f" stroke="#58953c" stroke-width="0.6"/>
<circle cx="153.5" cy="216.8" r="1.45" fill="#99d46f" stroke="#58953c" stroke-width="0.6"/>
<circle cx="150.0" cy="217.8" r="1.45" fill="#99d46f" stroke="#58953c" stroke-width="0.6"/>
<circle cx="151.6" cy="217.8" r="1.45" fill="#99d46f" stroke="#58953c" stroke-width="0.6"/>
<circle cx="153.3" cy="218.0" r="1.45" fill="#99d46f" stroke="#58953c" stroke-width="0.6"/>
<circle cx="149.1" cy="218.8" r="1.45" fill="#99d46f" stroke="#58953c" stroke-width="0.6"/>
<circle cx="151.3" cy="219.1" r="1.45" fill="#99d46f" stroke="#58953c" stroke-width="0.6"/>
<circle cx="152.5" cy="219.0" r="1.45" fill="#99d46f" stroke="#58953c" stroke-width="0.6"/>
<circle cx="149.5" cy="220.6" r="1.45" fill="#99d46f" stroke="#58953c" stroke-width="0.6"/>
<circle cx="151.5" cy="220.0" r="1.45" fill="#99d46f" stroke="#58953c" stroke-width="0.6"/>
<circle cx="153.6" cy="220.6" r="1.45" fill="#99d46f" stroke="#58953c" stroke-width="0.6"/>
<circle cx="149.5" cy="221.7" r="1.45" fill="#99d46f" stroke="#58953c" stroke-width="0.6"/>
<circle cx="150.6" cy="221.5" r="1.45" fill="#99d46f" stroke="#58953c" stroke-width="0.6"/>
<circle cx="152.5" cy="221.1" r="1.45" fill="#99d46f" stroke="#58953c" stroke-width="0.6"/>
<circle cx="154.0" cy="221.3" r="1.45" fill="#99d46f" stroke="#58953c" stroke-width="0.6"/>
<circle cx="149.2" cy="222.4" r="1.45" fill="#99d46f" stroke="#58953c" stroke-width="0.6"/>
<circle cx="150.7" cy="222.1" r="1.45" fill="#99d46f" stroke="#58953c" stroke-width="0.6"/>
<circle cx="152.9" cy="222.5" r="1.45" fill="#99d46f" stroke="#58953c" stroke-width="0.6"/>
<circle cx="149.6" cy="223.2" r="1.45" fill="#99d46f" stroke="#58953c" stroke-width="0.6"/>
<circle cx="151.4" cy="223.4" r="1.45" fill="#99d46f" stroke="#58953c" stroke-width="0.6"/>
<circle cx="153.5" cy="223.6" r="1.45" fill="#99d46f" stroke="#58953c" stroke-width="0.6"/>
<circle cx="149.8" cy="224.7" r="1.45" fill="#99d46f" stroke="#58953c" stroke-width="0.6"/>
<circle cx="151.3" cy="224.4" r="1.45" fill="#99d46f" stroke="#58953c" stroke-width="0.6"/>
<circle cx="153.5" cy="224.5" r="1.45" fill="#99d46f" stroke="#58953c" stroke-width="0.6"/>
<circle cx="149.7" cy="225.9" r="1.45" fill="#99d46f" stroke="#58953c" stroke-width="0.6"/>
<circle cx="151.5" cy="225.5" r="1.45" fill="#99d46f" stroke="#58953c" stroke-width="0.6"/>
<circle cx="153.6" cy="225.7" r="1.45" fill="#99d46f" stroke="#58953c" stroke-width="0.6"/>
<circle cx="149.4" cy="226.4" r="1.45" fill="#99d46f" stroke="#58953c" stroke-width="0.6"/>
<circle cx="151.4" cy="226.7" r="1.45" fill="#99d46f" stroke="#58953c" stroke-width="0.6"/>
<circle cx="153.4" cy="226.5" r="1.45" fill="#99d46f" stroke="#58953c" stroke-width="0.6"/>
<circle cx="150.1" cy="227.4" r="1.45" fill="#99d46f" stroke="#58953c" stroke-width="0.6"/>
<circle cx="151.8" cy="227.7" r="1.45" fill="#99d46f" stroke="#58953c" stroke-width="0.6"/>
<circle cx="153.7" cy="227.9" r="1.45" fill="#99d46f" stroke="#58953c" stroke-width="0.6"/>
<circle cx="150.5" cy="228.6" r="1.45" fill="#99d46f" stroke="#58953c" stroke-width="0.6"/>
<circle cx="152.6" cy="228.6" r="1.45" fill="#99d46f" stroke="#58953c" stroke-width="0.6"/>
<circle cx="154.0" cy="45.4" r="1.35" fill="none" stroke="#627f50" stroke-width="0.85"/>
<circle cx="148.4" cy="65.5" r="1.35" fill="none" stroke="#627f50" stroke-width="0.85"/>
<circle cx="150.5" cy="119.7" r="1.35" fill="none" stroke="#627f50" stroke-width="0.85"/>
<circle cx="152.7" cy="119.4" r="1.35" fill="none" stroke="#627f50" stroke-width="0.85"/>
<circle cx="150.0" cy="138.9" r="1.35" fill="none" stroke="#627f50" stroke-width="0.85"/>
<circle cx="153.5" cy="138.9" r="1.35" fill="none" stroke="#627f50" stroke-width="0.85"/>
<circle cx="154.9" cy="151.7" r="1.35" fill="#9fd27b" stroke="#627f50" stroke-width="0.85"/>
<circle cx="150.1" cy="155.0" r="1.35" fill="#9fd27b" stroke="#627f50" stroke-width="0.85"/>
<circle cx="152.3" cy="157.6" r="1.35" fill="#9fd27b" stroke="#627f50" stroke-width="0.85"/>
<circle cx="155.6" cy="159.8" r="1.35" fill="#9fd27b" stroke="#627f50" stroke-width="0.85"/>
<circle cx="149.5" cy="228.0" r="1.35" fill="none" stroke="#627f50" stroke-width="0.85"/>
<circle cx="153.0" cy="229.0" r="1.35" fill="none" stroke="#627f50" stroke-width="0.85"/>
<circle cx="177.4" cy="148.5" r="1.25" fill="#6a0726" stroke="#a30f40" stroke-width="0.6"/>
<circle cx="181.8" cy="149.8" r="1.25" fill="#6a0726" stroke="#a30f40" stroke-width="0.6"/>
<circle cx="179.6" cy="157.2" r="1.25" fill="#6a0726" stroke="#a30f40" stroke-width="0.6"/>
<circle cx="183.9" cy="156.3" r="1.25" fill="#6a0726" stroke="#a30f40" stroke-width="0.6"/>
<circle cx="183.5" cy="162.0" r="1.25" fill="#6a0726" stroke="#a30f40" stroke-width="0.6"/>
<circle cx="177.0" cy="168.6" r="1.25" fill="#6a0726" stroke="#a30f40" stroke-width="0.6"/>
<circle cx="177.4" cy="170.7" r="1.25" fill="#6a0726" stroke="#a30f40" stroke-width="0.6"/>
<circle cx="181.8" cy="175.1" r="1.25" fill="#6a0726" stroke="#a30f40" stroke-width="0.6"/>
<circle cx="178.5" cy="178.4" r="1.25" fill="#6a0726" stroke="#a30f40" stroke-width="0.6"/>
<circle cx="182.9" cy="177.3" r="1.25" fill="#6a0726" stroke="#a30f40" stroke-width="0.6"/>
<circle cx="177.4" cy="182.8" r="1.25" fill="#6a0726" stroke="#a30f40" stroke-width="0.6"/>
<circle cx="180.7" cy="184.9" r="1.25" fill="#6a0726" stroke="#a30f40" stroke-width="0.6"/>
<circle cx="178.5" cy="189.3" r="1.25" fill="#6a0726" stroke="#a30f40" stroke-width="0.6"/>
<circle cx="181.8" cy="191.5" r="1.25" fill="#6a0726" stroke="#a30f40" stroke-width="0.6"/>
<circle cx="177.4" cy="194.8" r="1.25" fill="#6a0726" stroke="#a30f40" stroke-width="0.6"/>
<circle cx="179.6" cy="195.9" r="1.25" fill="#6a0726" stroke="#a30f40" stroke-width="0.6"/>
<circle cx="177.9" cy="192.7" r="1.25" fill="#6a0726" stroke="#a30f40" stroke-width="0.6"/>
<circle cx="180.6" cy="191.8" r="1.25" fill="#6a0726" stroke="#a30f40" stroke-width="0.6"/>
<circle cx="179.7" cy="206.4" r="1.25" fill="#6a0726" stroke="#a30f40" stroke-width="0.6"/>
<circle cx="184.6" cy="207.3" r="1.25" fill="#6a0726" stroke="#a30f40" stroke-width="0.6"/>
<circle cx="178.8" cy="213.3" r="1.25" fill="#6a0726" stroke="#a30f40" stroke-width="0.6"/>
<circle cx="182.5" cy="213.6" r="1.25" fill="#6a0726" stroke="#a30f40" stroke-width="0.6"/>
<circle cx="180.6" cy="215.5" r="1.25" fill="#6a0726" stroke="#a30f40" stroke-width="0.6"/>
<circle cx="179.7" cy="220.0" r="1.25" fill="#6a0726" stroke="#a30f40" stroke-width="0.6"/>
<circle cx="183.9" cy="220.9" r="1.25" fill="#6a0726" stroke="#a30f40" stroke-width="0.6"/>
<circle cx="184.6" cy="222.4" r="1.25" fill="#6a0726" stroke="#a30f40" stroke-width="0.6"/>
<circle cx="182.5" cy="225.5" r="1.25" fill="#6a0726" stroke="#a30f40" stroke-width="0.6"/>
<line x1="141.4" x2="163.3" y1="189.3" y2="189.3" stroke="#314262" stroke-width="1.5"/>
<line x1="168.3" x2="190.0" y1="196.6" y2="196.6" stroke="#314262" stroke-width="1.5"/>
<rect x="136.50" y="19.20" width="58.80" height="223.40" fill="none" stroke="#111" stroke-width="1.55"/>
<line x1="133.3" x2="136.5" y1="230.40" y2="230.40" stroke="#111" stroke-width="1.2"/>
<text transform="translate(129.90,232.95) scale(0.860,1)" font-size="7.10" text-anchor="end" fill="#2a2a2a" stroke="#2a2a2a" stroke-width="0.14" >0</text>
<line x1="133.3" x2="136.5" y1="196.24" y2="196.24" stroke="#111" stroke-width="1.2"/>
<text transform="translate(129.90,198.79) scale(0.860,1)" font-size="7.10" text-anchor="end" fill="#2a2a2a" stroke="#2a2a2a" stroke-width="0.14" >10</text>
<line x1="133.3" x2="136.5" y1="162.08" y2="162.08" stroke="#111" stroke-width="1.2"/>
<text transform="translate(129.90,164.63) scale(0.860,1)" font-size="7.10" text-anchor="end" fill="#2a2a2a" stroke="#2a2a2a" stroke-width="0.14" >20</text>
<line x1="133.3" x2="136.5" y1="127.92" y2="127.92" stroke="#111" stroke-width="1.2"/>
<text transform="translate(129.90,130.47) scale(0.860,1)" font-size="7.10" text-anchor="end" fill="#2a2a2a" stroke="#2a2a2a" stroke-width="0.14" >30</text>
<line x1="133.3" x2="136.5" y1="93.76" y2="93.76" stroke="#111" stroke-width="1.2"/>
<text transform="translate(129.90,96.31) scale(0.860,1)" font-size="7.10" text-anchor="end" fill="#2a2a2a" stroke="#2a2a2a" stroke-width="0.14" >40</text>
<line x1="133.3" x2="136.5" y1="59.60" y2="59.60" stroke="#111" stroke-width="1.2"/>
<text transform="translate(129.90,62.15) scale(0.860,1)" font-size="7.10" text-anchor="end" fill="#2a2a2a" stroke="#2a2a2a" stroke-width="0.14" >50</text>
<line x1="133.3" x2="136.5" y1="25.44" y2="25.44" stroke="#111" stroke-width="1.2"/>
<text transform="translate(129.90,27.99) scale(0.860,1)" font-size="7.10" text-anchor="end" fill="#2a2a2a" stroke="#2a2a2a" stroke-width="0.14" >60</text>
<line x1="151.2" x2="151.2" y1="242.6" y2="245.6" stroke="#111" stroke-width="1.2"/>
<text transform="translate(151.20,254.45) scale(1.000,1)" font-size="6.60" text-anchor="middle" fill="#2a2a2a" stroke="#2a2a2a" stroke-width="0.14" textLength="8.3" lengthAdjust="spacingAndGlyphs">No</text>
<line x1="181.0" x2="181.0" y1="242.6" y2="245.6" stroke="#111" stroke-width="1.2"/>
<text transform="translate(181.00,254.45) scale(1.000,1)" font-size="6.60" text-anchor="middle" fill="#2a2a2a" stroke="#2a2a2a" stroke-width="0.14" textLength="9.0" lengthAdjust="spacingAndGlyphs">Yes</text>
<text transform="translate(165.90,266.00) scale(1.000,1)" font-size="8.50" text-anchor="middle" fill="#2a2a2a" stroke="#2a2a2a" stroke-width="0.14" textLength="40.5" lengthAdjust="spacingAndGlyphs">Recurrent VTE</text>
<text transform="translate(117.2,130.5) rotate(-90)" x="0" y="0" font-size="7.5" text-anchor="middle" textLength="30.5" lengthAdjust="spacingAndGlyphs" fill="#2a2a2a" stroke="#2a2a2a" stroke-width="0.14">ACA (MPL)</text>
<text transform="translate(269.75,13.90) scale(1.000,1)" font-size="8.60" text-anchor="middle" fill="#2a2a2a" stroke="#2a2a2a" stroke-width="0.14" >Anti-b2GP1</text>
<line x1="240.9" x2="298.6" y1="161.9" y2="161.9" stroke="#98bbdc" stroke-width="1.6"/>
<text transform="translate(301.80,164.40) scale(0.900,1)" font-size="7.00" text-anchor="start" fill="#2a2a2a" stroke="#2a2a2a" stroke-width="0.14" >20</text>
<circle cx="254.9" cy="217.0" r="1.45" fill="#8ccd5f" stroke="#58953c" stroke-width="0.6"/>
<circle cx="256.1" cy="216.4" r="1.45" fill="#8ccd5f" stroke="#58953c" stroke-width="0.6"/>
<circle cx="258.4" cy="216.7" r="1.45" fill="#8ccd5f" stroke="#58953c" stroke-width="0.6"/>
<circle cx="254.6" cy="218.1" r="1.45" fill="#8ccd5f" stroke="#58953c" stroke-width="0.6"/>
<circle cx="256.2" cy="217.6" r="1.45" fill="#8ccd5f" stroke="#58953c" stroke-width="0.6"/>
<circle cx="257.7" cy="217.7" r="1.45" fill="#8ccd5f" stroke="#58953c" stroke-width="0.6"/>
<circle cx="259.4" cy="217.5" r="1.45" fill="#8ccd5f" stroke="#58953c" stroke-width="0.6"/>
<circle cx="254.7" cy="218.8" r="1.45" fill="#8ccd5f" stroke="#58953c" stroke-width="0.6"/>
<circle cx="257.0" cy="219.2" r="1.45" fill="#8ccd5f" stroke="#58953c" stroke-width="0.6"/>
<circle cx="258.9" cy="218.9" r="1.45" fill="#8ccd5f" stroke="#58953c" stroke-width="0.6"/>
<circle cx="254.0" cy="220.4" r="1.45" fill="#8ccd5f" stroke="#58953c" stroke-width="0.6"/>
<circle cx="255.4" cy="220.5" r="1.45" fill="#8ccd5f" stroke="#58953c" stroke-width="0.6"/>
<circle cx="257.9" cy="220.4" r="1.45" fill="#8ccd5f" stroke="#58953c" stroke-width="0.6"/>
<circle cx="253.8" cy="221.1" r="1.45" fill="#8ccd5f" stroke="#58953c" stroke-width="0.6"/>
<circle cx="255.4" cy="221.5" r="1.45" fill="#8ccd5f" stroke="#58953c" stroke-width="0.6"/>
<circle cx="255.4" cy="222.2" r="1.45" fill="#8ccd5f" stroke="#58953c" stroke-width="0.6"/>
<circle cx="257.1" cy="222.7" r="1.45" fill="#8ccd5f" stroke="#58953c" stroke-width="0.6"/>
<circle cx="254.6" cy="223.9" r="1.45" fill="#8ccd5f" stroke="#58953c" stroke-width="0.6"/>
<circle cx="256.4" cy="223.2" r="1.45" fill="#8ccd5f" stroke="#58953c" stroke-width="0.6"/>
<circle cx="257.5" cy="223.7" r="1.45" fill="#8ccd5f" stroke="#58953c" stroke-width="0.6"/>
<circle cx="254.5" cy="225.0" r="1.45" fill="#8ccd5f" stroke="#58953c" stroke-width="0.6"/>
<circle cx="256.2" cy="225.0" r="1.45" fill="#8ccd5f" stroke="#58953c" stroke-width="0.6"/>
<circle cx="258.5" cy="224.8" r="1.45" fill="#8ccd5f" stroke="#58953c" stroke-width="0.6"/>
<circle cx="254.4" cy="226.0" r="1.45" fill="#8ccd5f" stroke="#58953c" stroke-width="0.6"/>
<circle cx="256.3" cy="226.0" r="1.45" fill="#8ccd5f" stroke="#58953c" stroke-width="0.6"/>
<circle cx="258.2" cy="225.6" r="1.45" fill="#8ccd5f" stroke="#58953c" stroke-width="0.6"/>
<circle cx="253.9" cy="226.6" r="1.45" fill="#8ccd5f" stroke="#58953c" stroke-width="0.6"/>
<circle cx="254.6" cy="227.3" r="1.45" fill="#8ccd5f" stroke="#58953c" stroke-width="0.6"/>
<circle cx="256.4" cy="226.5" r="1.45" fill="#8ccd5f" stroke="#58953c" stroke-width="0.6"/>
<circle cx="258.2" cy="227.0" r="1.45" fill="#8ccd5f" stroke="#58953c" stroke-width="0.6"/>
<circle cx="254.3" cy="228.1" r="1.45" fill="#8ccd5f" stroke="#58953c" stroke-width="0.6"/>
<circle cx="256.6" cy="228.3" r="1.45" fill="#8ccd5f" stroke="#58953c" stroke-width="0.6"/>
<circle cx="258.3" cy="228.3" r="1.45" fill="#8ccd5f" stroke="#58953c" stroke-width="0.6"/>
<circle cx="254.7" cy="228.9" r="1.45" fill="#8ccd5f" stroke="#58953c" stroke-width="0.6"/>
<circle cx="256.1" cy="229.5" r="1.45" fill="#8ccd5f" stroke="#58953c" stroke-width="0.6"/>
<circle cx="258.7" cy="229.4" r="1.45" fill="#8ccd5f" stroke="#58953c" stroke-width="0.6"/>
<circle cx="253.4" cy="92.1" r="1.35" fill="none" stroke="#627f50" stroke-width="0.85"/>
<circle cx="257.4" cy="137.0" r="1.35" fill="none" stroke="#627f50" stroke-width="0.85"/>
<circle cx="256.3" cy="181.6" r="1.35" fill="none" stroke="#627f50" stroke-width="0.85"/>
<circle cx="258.9" cy="204.5" r="1.35" fill="none" stroke="#627f50" stroke-width="0.85"/>
<circle cx="254.1" cy="212.3" r="1.35" fill="none" stroke="#627f50" stroke-width="0.85"/>
<circle cx="287.3" cy="203.4" r="1.25" fill="#6a0726" stroke="#a30f40" stroke-width="0.6"/>
<circle cx="287.8" cy="217.2" r="1.25" fill="#6a0726" stroke="#a30f40" stroke-width="0.6"/>
<circle cx="284.2" cy="218.2" r="1.25" fill="#6a0726" stroke="#a30f40" stroke-width="0.6"/>
<circle cx="281.8" cy="225.6" r="1.25" fill="#6a0726" stroke="#a30f40" stroke-width="0.6"/>
<circle cx="283.7" cy="225.1" r="1.25" fill="#6a0726" stroke="#a30f40" stroke-width="0.6"/>
<circle cx="285.6" cy="225.4" r="1.25" fill="#6a0726" stroke="#a30f40" stroke-width="0.6"/>
<circle cx="287.5" cy="225.9" r="1.25" fill="#6a0726" stroke="#a30f40" stroke-width="0.6"/>
<circle cx="282.2" cy="227.5" r="1.25" fill="#6a0726" stroke="#a30f40" stroke-width="0.6"/>
<circle cx="284.2" cy="227.2" r="1.25" fill="#6a0726" stroke="#a30f40" stroke-width="0.6"/>
<circle cx="286.1" cy="227.6" r="1.25" fill="#6a0726" stroke="#a30f40" stroke-width="0.6"/>
<circle cx="288.0" cy="227.8" r="1.25" fill="#6a0726" stroke="#a30f40" stroke-width="0.6"/>
<circle cx="281.9" cy="229.2" r="1.25" fill="#6a0726" stroke="#a30f40" stroke-width="0.6"/>
<circle cx="283.9" cy="229.4" r="1.25" fill="#6a0726" stroke="#a30f40" stroke-width="0.6"/>
<circle cx="285.9" cy="229.3" r="1.25" fill="#6a0726" stroke="#a30f40" stroke-width="0.6"/>
<circle cx="287.7" cy="229.2" r="1.25" fill="#6a0726" stroke="#a30f40" stroke-width="0.6"/>
<line x1="245.8" x2="267.9" y1="226.6" y2="226.6" stroke="#314262" stroke-width="1.5"/>
<line x1="273.6" x2="294.7" y1="227.3" y2="227.3" stroke="#314262" stroke-width="1.5"/>
<rect x="240.90" y="19.20" width="57.70" height="223.40" fill="none" stroke="#111" stroke-width="1.55"/>
<line x1="237.7" x2="240.9" y1="230.40" y2="230.40" stroke="#111" stroke-width="1.2"/>
<text transform="translate(234.30,232.95) scale(0.860,1)" font-size="7.10" text-anchor="end" fill="#2a2a2a" stroke="#2a2a2a" stroke-width="0.14" >0</text>
<line x1="237.7" x2="240.9" y1="196.24" y2="196.24" stroke="#111" stroke-width="1.2"/>
<text transform="translate(234.30,198.79) scale(0.860,1)" font-size="7.10" text-anchor="end" fill="#2a2a2a" stroke="#2a2a2a" stroke-width="0.14" >10</text>
<line x1="237.7" x2="240.9" y1="162.08" y2="162.08" stroke="#111" stroke-width="1.2"/>
<text transform="translate(234.30,164.63) scale(0.860,1)" font-size="7.10" text-anchor="end" fill="#2a2a2a" stroke="#2a2a2a" stroke-width="0.14" >20</text>
<line x1="237.7" x2="240.9" y1="127.92" y2="127.92" stroke="#111" stroke-width="1.2"/>
<text transform="translate(234.30,130.47) scale(0.860,1)" font-size="7.10" text-anchor="end" fill="#2a2a2a" stroke="#2a2a2a" stroke-width="0.14" >30</text>
<line x1="237.7" x2="240.9" y1="93.76" y2="93.76" stroke="#111" stroke-width="1.2"/>
<text transform="translate(234.30,96.31) scale(0.860,1)" font-size="7.10" text-anchor="end" fill="#2a2a2a" stroke="#2a2a2a" stroke-width="0.14" >40</text>
<line x1="237.7" x2="240.9" y1="59.60" y2="59.60" stroke="#111" stroke-width="1.2"/>
<text transform="translate(234.30,62.15) scale(0.860,1)" font-size="7.10" text-anchor="end" fill="#2a2a2a" stroke="#2a2a2a" stroke-width="0.14" >50</text>
<line x1="237.7" x2="240.9" y1="25.44" y2="25.44" stroke="#111" stroke-width="1.2"/>
<text transform="translate(234.30,27.99) scale(0.860,1)" font-size="7.10" text-anchor="end" fill="#2a2a2a" stroke="#2a2a2a" stroke-width="0.14" >60</text>
<line x1="255.6" x2="255.6" y1="242.6" y2="245.6" stroke="#111" stroke-width="1.2"/>
<text transform="translate(255.60,254.45) scale(1.000,1)" font-size="6.60" text-anchor="middle" fill="#2a2a2a" stroke="#2a2a2a" stroke-width="0.14" textLength="8.3" lengthAdjust="spacingAndGlyphs">No</text>
<line x1="284.2" x2="284.2" y1="242.6" y2="245.6" stroke="#111" stroke-width="1.2"/>
<text transform="translate(284.20,254.45) scale(1.000,1)" font-size="6.60" text-anchor="middle" fill="#2a2a2a" stroke="#2a2a2a" stroke-width="0.14" textLength="9.0" lengthAdjust="spacingAndGlyphs">Yes</text>
<text transform="translate(269.75,266.00) scale(1.000,1)" font-size="8.50" text-anchor="middle" fill="#2a2a2a" stroke="#2a2a2a" stroke-width="0.14" textLength="40.5" lengthAdjust="spacingAndGlyphs">Recurrent VTE</text>
<text transform="translate(222.4,130.8) rotate(-90)" x="0" y="0" font-size="7.5" text-anchor="middle" textLength="47.0" lengthAdjust="spacingAndGlyphs" fill="#2a2a2a" stroke="#2a2a2a" stroke-width="0.14">Anti-b2 GP1 (G)</text>
<text transform="translate(373.30,13.90) scale(1.000,1)" font-size="8.60" text-anchor="middle" fill="#2a2a2a" stroke="#2a2a2a" stroke-width="0.14" >APTT</text>
<line x1="344.0" x2="402.6" y1="182.6" y2="182.6" stroke="#98bbdc" stroke-width="1.6"/>
<text transform="translate(405.80,185.10) scale(0.900,1)" font-size="7.00" text-anchor="start" fill="#2a2a2a" stroke="#2a2a2a" stroke-width="0.14" >8</text>
<circle cx="358.9" cy="180.2" r="1.45" fill="#92cd6b" stroke="#58953c" stroke-width="0.6"/>
<circle cx="358.2" cy="181.6" r="1.45" fill="#92cd6b" stroke="#58953c" stroke-width="0.6"/>
<circle cx="359.6" cy="181.5" r="1.45" fill="#92cd6b" stroke="#58953c" stroke-width="0.6"/>
<circle cx="357.8" cy="183.3" r="1.45" fill="#92cd6b" stroke="#58953c" stroke-width="0.6"/>
<circle cx="360.2" cy="183.0" r="1.45" fill="#92cd6b" stroke="#58953c" stroke-width="0.6"/>
<circle cx="361.4" cy="182.8" r="1.45" fill="#92cd6b" stroke="#58953c" stroke-width="0.6"/>
<circle cx="357.7" cy="184.1" r="1.45" fill="#92cd6b" stroke="#58953c" stroke-width="0.6"/>
<circle cx="359.5" cy="183.8" r="1.45" fill="#92cd6b" stroke="#58953c" stroke-width="0.6"/>
<circle cx="361.3" cy="183.7" r="1.45" fill="#92cd6b" stroke="#58953c" stroke-width="0.6"/>
<circle cx="358.2" cy="184.9" r="1.45" fill="#92cd6b" stroke="#58953c" stroke-width="0.6"/>
<circle cx="359.8" cy="185.5" r="1.45" fill="#92cd6b" stroke="#58953c" stroke-width="0.6"/>
<circle cx="361.5" cy="185.2" r="1.45" fill="#92cd6b" stroke="#58953c" stroke-width="0.6"/>
<circle cx="357.0" cy="186.3" r="1.45" fill="#92cd6b" stroke="#58953c" stroke-width="0.6"/>
<circle cx="358.5" cy="186.5" r="1.45" fill="#92cd6b" stroke="#58953c" stroke-width="0.6"/>
<circle cx="360.0" cy="186.2" r="1.45" fill="#92cd6b" stroke="#58953c" stroke-width="0.6"/>
<circle cx="362.4" cy="186.7" r="1.45" fill="#92cd6b" stroke="#58953c" stroke-width="0.6"/>
<circle cx="356.6" cy="187.6" r="1.45" fill="#92cd6b" stroke="#58953c" stroke-width="0.6"/>
<circle cx="358.8" cy="188.0" r="1.45" fill="#92cd6b" stroke="#58953c" stroke-width="0.6"/>
<circle cx="360.3" cy="187.5" r="1.45" fill="#92cd6b" stroke="#58953c" stroke-width="0.6"/>
<circle cx="356.8" cy="189.2" r="1.45" fill="#92cd6b" stroke="#58953c" stroke-width="0.6"/>
<circle cx="358.6" cy="188.9" r="1.45" fill="#92cd6b" stroke="#58953c" stroke-width="0.6"/>
<circle cx="361.1" cy="189.0" r="1.45" fill="#92cd6b" stroke="#58953c" stroke-width="0.6"/>
<circle cx="362.6" cy="188.6" r="1.45" fill="#92cd6b" stroke="#58953c" stroke-width="0.6"/>
<circle cx="357.4" cy="189.8" r="1.45" fill="#92cd6b" stroke="#58953c" stroke-width="0.6"/>
<circle cx="359.3" cy="190.2" r="1.45" fill="#92cd6b" stroke="#58953c" stroke-width="0.6"/>
<circle cx="360.6" cy="190.4" r="1.45" fill="#92cd6b" stroke="#58953c" stroke-width="0.6"/>
<circle cx="362.1" cy="189.9" r="1.45" fill="#92cd6b" stroke="#58953c" stroke-width="0.6"/>
<circle cx="357.2" cy="191.0" r="1.45" fill="#92cd6b" stroke="#58953c" stroke-width="0.6"/>
<circle cx="359.0" cy="191.3" r="1.45" fill="#92cd6b" stroke="#58953c" stroke-width="0.6"/>
<circle cx="360.6" cy="191.1" r="1.45" fill="#92cd6b" stroke="#58953c" stroke-width="0.6"/>
<circle cx="356.9" cy="192.9" r="1.45" fill="#92cd6b" stroke="#58953c" stroke-width="0.6"/>
<circle cx="358.7" cy="192.9" r="1.45" fill="#92cd6b" stroke="#58953c" stroke-width="0.6"/>
<circle cx="361.3" cy="192.4" r="1.45" fill="#92cd6b" stroke="#58953c" stroke-width="0.6"/>
<circle cx="362.9" cy="192.2" r="1.45" fill="#92cd6b" stroke="#58953c" stroke-width="0.6"/>
<circle cx="356.3" cy="193.6" r="1.45" fill="#92cd6b" stroke="#58953c" stroke-width="0.6"/>
<circle cx="359.2" cy="193.7" r="1.45" fill="#92cd6b" stroke="#58953c" stroke-width="0.6"/>
<circle cx="361.2" cy="193.4" r="1.45" fill="#92cd6b" stroke="#58953c" stroke-width="0.6"/>
<circle cx="356.9" cy="195.2" r="1.45" fill="#92cd6b" stroke="#58953c" stroke-width="0.6"/>
<circle cx="358.7" cy="195.1" r="1.45" fill="#92cd6b" stroke="#58953c" stroke-width="0.6"/>
<circle cx="360.4" cy="195.1" r="1.45" fill="#92cd6b" stroke="#58953c" stroke-width="0.6"/>
<circle cx="357.5" cy="196.4" r="1.45" fill="#92cd6b" stroke="#58953c" stroke-width="0.6"/>
<circle cx="359.7" cy="196.1" r="1.45" fill="#92cd6b" stroke="#58953c" stroke-width="0.6"/>
<circle cx="361.4" cy="195.8" r="1.45" fill="#92cd6b" stroke="#58953c" stroke-width="0.6"/>
<circle cx="357.5" cy="197.4" r="1.45" fill="#92cd6b" stroke="#58953c" stroke-width="0.6"/>
<circle cx="359.0" cy="197.3" r="1.45" fill="#92cd6b" stroke="#58953c" stroke-width="0.6"/>
<circle cx="361.1" cy="197.4" r="1.45" fill="#92cd6b" stroke="#58953c" stroke-width="0.6"/>
<circle cx="356.5" cy="198.7" r="1.45" fill="#92cd6b" stroke="#58953c" stroke-width="0.6"/>
<circle cx="358.3" cy="198.9" r="1.45" fill="#92cd6b" stroke="#58953c" stroke-width="0.6"/>
<circle cx="359.8" cy="198.2" r="1.45" fill="#92cd6b" stroke="#58953c" stroke-width="0.6"/>
<circle cx="362.4" cy="198.5" r="1.45" fill="#92cd6b" stroke="#58953c" stroke-width="0.6"/>
<circle cx="357.1" cy="199.9" r="1.45" fill="#92cd6b" stroke="#58953c" stroke-width="0.6"/>
<circle cx="359.1" cy="200.0" r="1.45" fill="#92cd6b" stroke="#58953c" stroke-width="0.6"/>
<circle cx="361.0" cy="200.1" r="1.45" fill="#92cd6b" stroke="#58953c" stroke-width="0.6"/>
<circle cx="362.9" cy="199.6" r="1.45" fill="#92cd6b" stroke="#58953c" stroke-width="0.6"/>
<circle cx="356.7" cy="200.8" r="1.45" fill="#92cd6b" stroke="#58953c" stroke-width="0.6"/>
<circle cx="357.6" cy="200.8" r="1.45" fill="#92cd6b" stroke="#58953c" stroke-width="0.6"/>
<circle cx="359.2" cy="200.8" r="1.45" fill="#92cd6b" stroke="#58953c" stroke-width="0.6"/>
<circle cx="361.4" cy="200.7" r="1.45" fill="#92cd6b" stroke="#58953c" stroke-width="0.6"/>
<circle cx="357.6" cy="202.1" r="1.45" fill="#92cd6b" stroke="#58953c" stroke-width="0.6"/>
<circle cx="359.2" cy="202.0" r="1.45" fill="#92cd6b" stroke="#58953c" stroke-width="0.6"/>
<circle cx="360.4" cy="202.3" r="1.45" fill="#92cd6b" stroke="#58953c" stroke-width="0.6"/>
<circle cx="357.1" cy="203.3" r="1.45" fill="#92cd6b" stroke="#58953c" stroke-width="0.6"/>
<circle cx="359.2" cy="203.2" r="1.45" fill="#92cd6b" stroke="#58953c" stroke-width="0.6"/>
<circle cx="361.2" cy="203.6" r="1.45" fill="#92cd6b" stroke="#58953c" stroke-width="0.6"/>
<circle cx="356.6" cy="204.2" r="1.45" fill="#92cd6b" stroke="#58953c" stroke-width="0.6"/>
<circle cx="358.8" cy="204.8" r="1.45" fill="#92cd6b" stroke="#58953c" stroke-width="0.6"/>
<circle cx="360.6" cy="204.3" r="1.45" fill="#92cd6b" stroke="#58953c" stroke-width="0.6"/>
<circle cx="362.4" cy="204.1" r="1.45" fill="#92cd6b" stroke="#58953c" stroke-width="0.6"/>
<circle cx="356.3" cy="205.5" r="1.45" fill="#92cd6b" stroke="#58953c" stroke-width="0.6"/>
<circle cx="358.5" cy="205.8" r="1.45" fill="#92cd6b" stroke="#58953c" stroke-width="0.6"/>
<circle cx="360.6" cy="206.0" r="1.45" fill="#92cd6b" stroke="#58953c" stroke-width="0.6"/>
<circle cx="356.5" cy="207.2" r="1.45" fill="#92cd6b" stroke="#58953c" stroke-width="0.6"/>
<circle cx="358.2" cy="207.2" r="1.45" fill="#92cd6b" stroke="#58953c" stroke-width="0.6"/>
<circle cx="360.3" cy="206.5" r="1.45" fill="#92cd6b" stroke="#58953c" stroke-width="0.6"/>
<circle cx="357.3" cy="207.8" r="1.45" fill="#92cd6b" stroke="#58953c" stroke-width="0.6"/>
<circle cx="358.9" cy="208.3" r="1.45" fill="#92cd6b" stroke="#58953c" stroke-width="0.6"/>
<circle cx="360.7" cy="208.4" r="1.45" fill="#92cd6b" stroke="#58953c" stroke-width="0.6"/>
<circle cx="357.5" cy="209.4" r="1.45" fill="#92cd6b" stroke="#58953c" stroke-width="0.6"/>
<circle cx="359.6" cy="209.6" r="1.45" fill="#92cd6b" stroke="#58953c" stroke-width="0.6"/>
<circle cx="362.1" cy="209.1" r="1.45" fill="#92cd6b" stroke="#58953c" stroke-width="0.6"/>
<circle cx="358.3" cy="210.5" r="1.45" fill="#92cd6b" stroke="#58953c" stroke-width="0.6"/>
<circle cx="360.6" cy="210.3" r="1.45" fill="#92cd6b" stroke="#58953c" stroke-width="0.6"/>
<circle cx="362.0" cy="210.5" r="1.45" fill="#92cd6b" stroke="#58953c" stroke-width="0.6"/>
<circle cx="358.2" cy="211.7" r="1.45" fill="#92cd6b" stroke="#58953c" stroke-width="0.6"/>
<circle cx="360.5" cy="212.0" r="1.45" fill="#92cd6b" stroke="#58953c" stroke-width="0.6"/>
<circle cx="362.2" cy="211.7" r="1.45" fill="#92cd6b" stroke="#58953c" stroke-width="0.6"/>
<circle cx="359.2" cy="212.8" r="1.45" fill="#92cd6b" stroke="#58953c" stroke-width="0.6"/>
<circle cx="361.2" cy="212.6" r="1.45" fill="#92cd6b" stroke="#58953c" stroke-width="0.6"/>
<circle cx="358.6" cy="214.2" r="1.45" fill="#92cd6b" stroke="#58953c" stroke-width="0.6"/>
<circle cx="361.5" cy="214.0" r="1.45" fill="#92cd6b" stroke="#58953c" stroke-width="0.6"/>
<circle cx="358.9" cy="215.6" r="1.45" fill="#92cd6b" stroke="#58953c" stroke-width="0.6"/>
<circle cx="360.5" cy="215.4" r="1.45" fill="#92cd6b" stroke="#58953c" stroke-width="0.6"/>
<circle cx="359.4" cy="216.5" r="1.45" fill="#92cd6b" stroke="#58953c" stroke-width="0.6"/>
<circle cx="359.3" cy="217.6" r="1.45" fill="#92cd6b" stroke="#58953c" stroke-width="0.6"/>
<circle cx="359.6" cy="218.7" r="1.45" fill="#92cd6b" stroke="#58953c" stroke-width="0.6"/>
<circle cx="359.3" cy="219.9" r="1.45" fill="#92cd6b" stroke="#58953c" stroke-width="0.6"/>
<circle cx="358.2" cy="30.9" r="1.35" fill="none" stroke="#627f50" stroke-width="0.85"/>
<circle cx="361.5" cy="101.8" r="1.35" fill="none" stroke="#627f50" stroke-width="0.85"/>
<circle cx="358.2" cy="138.3" r="1.35" fill="none" stroke="#627f50" stroke-width="0.85"/>
<circle cx="361.5" cy="150.7" r="1.35" fill="none" stroke="#627f50" stroke-width="0.85"/>
<circle cx="358.2" cy="154.2" r="1.35" fill="none" stroke="#627f50" stroke-width="0.85"/>
<circle cx="357.1" cy="161.6" r="1.35" fill="none" stroke="#627f50" stroke-width="0.85"/>
<circle cx="361.5" cy="162.9" r="1.35" fill="none" stroke="#627f50" stroke-width="0.85"/>
<circle cx="359.3" cy="169.9" r="1.35" fill="#9fd27b" stroke="#627f50" stroke-width="0.85"/>
<circle cx="356.0" cy="175.4" r="1.35" fill="#9fd27b" stroke="#627f50" stroke-width="0.85"/>
<circle cx="359.3" cy="176.5" r="1.35" fill="#9fd27b" stroke="#627f50" stroke-width="0.85"/>
<circle cx="357.5" cy="177.2" r="1.35" fill="#9fd27b" stroke="#627f50" stroke-width="0.85"/>
<circle cx="360.2" cy="229.0" r="1.35" fill="none" stroke="#627f50" stroke-width="0.85"/>
<circle cx="384.8" cy="133.9" r="1.25" fill="#6a0726" stroke="#a30f40" stroke-width="0.6"/>
<circle cx="386.6" cy="160.8" r="1.25" fill="#6a0726" stroke="#a30f40" stroke-width="0.6"/>
<circle cx="385.5" cy="183.5" r="1.25" fill="#6a0726" stroke="#a30f40" stroke-width="0.6"/>
<circle cx="385.5" cy="187.7" r="1.25" fill="#6a0726" stroke="#a30f40" stroke-width="0.6"/>
<circle cx="388.2" cy="193.2" r="1.25" fill="#6a0726" stroke="#a30f40" stroke-width="0.6"/>
<circle cx="386.4" cy="195.9" r="1.25" fill="#6a0726" stroke="#a30f40" stroke-width="0.6"/>
<circle cx="390.0" cy="196.5" r="1.25" fill="#6a0726" stroke="#a30f40" stroke-width="0.6"/>
<circle cx="387.8" cy="199.5" r="1.25" fill="#6a0726" stroke="#a30f40" stroke-width="0.6"/>
<circle cx="385.5" cy="200.5" r="1.25" fill="#6a0726" stroke="#a30f40" stroke-width="0.6"/>
<circle cx="389.0" cy="202.3" r="1.25" fill="#6a0726" stroke="#a30f40" stroke-width="0.6"/>
<circle cx="386.4" cy="204.0" r="1.25" fill="#6a0726" stroke="#a30f40" stroke-width="0.6"/>
<circle cx="388.2" cy="205.0" r="1.25" fill="#6a0726" stroke="#a30f40" stroke-width="0.6"/>
<circle cx="385.5" cy="206.8" r="1.25" fill="#6a0726" stroke="#a30f40" stroke-width="0.6"/>
<circle cx="389.0" cy="208.6" r="1.25" fill="#6a0726" stroke="#a30f40" stroke-width="0.6"/>
<circle cx="387.3" cy="210.5" r="1.25" fill="#6a0726" stroke="#a30f40" stroke-width="0.6"/>
<circle cx="386.4" cy="213.2" r="1.25" fill="#6a0726" stroke="#a30f40" stroke-width="0.6"/>
<circle cx="388.2" cy="213.5" r="1.25" fill="#6a0726" stroke="#a30f40" stroke-width="0.6"/>
<circle cx="385.8" cy="220.0" r="1.25" fill="#6a0726" stroke="#a30f40" stroke-width="0.6"/>
<circle cx="390.1" cy="223.6" r="1.25" fill="#6a0726" stroke="#a30f40" stroke-width="0.6"/>
<line x1="349.4" x2="371.4" y1="201.5" y2="201.5" stroke="#314262" stroke-width="1.5"/>
<line x1="376.6" x2="397.8" y1="204.7" y2="204.7" stroke="#314262" stroke-width="1.5"/>
<rect x="344.00" y="19.20" width="58.60" height="223.40" fill="none" stroke="#111" stroke-width="1.55"/>
<line x1="340.8" x2="344.0" y1="237.18" y2="237.18" stroke="#111" stroke-width="1.2"/>
<text transform="translate(337.40,239.73) scale(0.860,1)" font-size="7.10" text-anchor="end" fill="#2a2a2a" stroke="#2a2a2a" stroke-width="0.14" >-10</text>
<line x1="340.8" x2="344.0" y1="206.80" y2="206.80" stroke="#111" stroke-width="1.2"/>
<text transform="translate(337.40,209.35) scale(0.860,1)" font-size="7.10" text-anchor="end" fill="#2a2a2a" stroke="#2a2a2a" stroke-width="0.14" >0</text>
<line x1="340.8" x2="344.0" y1="176.42" y2="176.42" stroke="#111" stroke-width="1.2"/>
<text transform="translate(337.40,178.97) scale(0.860,1)" font-size="7.10" text-anchor="end" fill="#2a2a2a" stroke="#2a2a2a" stroke-width="0.14" >10</text>
<line x1="340.8" x2="344.0" y1="146.04" y2="146.04" stroke="#111" stroke-width="1.2"/>
<text transform="translate(337.40,148.59) scale(0.860,1)" font-size="7.10" text-anchor="end" fill="#2a2a2a" stroke="#2a2a2a" stroke-width="0.14" >20</text>
<line x1="340.8" x2="344.0" y1="115.66" y2="115.66" stroke="#111" stroke-width="1.2"/>
<text transform="translate(337.40,118.21) scale(0.860,1)" font-size="7.10" text-anchor="end" fill="#2a2a2a" stroke="#2a2a2a" stroke-width="0.14" >30</text>
<line x1="340.8" x2="344.0" y1="85.28" y2="85.28" stroke="#111" stroke-width="1.2"/>
<text transform="translate(337.40,87.83) scale(0.860,1)" font-size="7.10" text-anchor="end" fill="#2a2a2a" stroke="#2a2a2a" stroke-width="0.14" >40</text>
<line x1="340.8" x2="344.0" y1="54.90" y2="54.90" stroke="#111" stroke-width="1.2"/>
<text transform="translate(337.40,57.45) scale(0.860,1)" font-size="7.10" text-anchor="end" fill="#2a2a2a" stroke="#2a2a2a" stroke-width="0.14" >50</text>
<line x1="340.8" x2="344.0" y1="24.52" y2="24.52" stroke="#111" stroke-width="1.2"/>
<text transform="translate(337.40,27.07) scale(0.860,1)" font-size="7.10" text-anchor="end" fill="#2a2a2a" stroke="#2a2a2a" stroke-width="0.14" >60</text>
<line x1="359.4" x2="359.4" y1="242.6" y2="245.6" stroke="#111" stroke-width="1.2"/>
<text transform="translate(359.40,254.45) scale(1.000,1)" font-size="6.60" text-anchor="middle" fill="#2a2a2a" stroke="#2a2a2a" stroke-width="0.14" textLength="8.3" lengthAdjust="spacingAndGlyphs">No</text>
<line x1="388.0" x2="388.0" y1="242.6" y2="245.6" stroke="#111" stroke-width="1.2"/>
<text transform="translate(388.00,254.45) scale(1.000,1)" font-size="6.60" text-anchor="middle" fill="#2a2a2a" stroke="#2a2a2a" stroke-width="0.14" textLength="9.0" lengthAdjust="spacingAndGlyphs">Yes</text>
<text transform="translate(373.30,266.00) scale(1.000,1)" font-size="8.50" text-anchor="middle" fill="#2a2a2a" stroke="#2a2a2a" stroke-width="0.14" textLength="40.5" lengthAdjust="spacingAndGlyphs">Recurrent VTE</text>
<text transform="translate(325.4,130.0) rotate(-90)" x="0" y="0" font-size="7.5" text-anchor="middle" textLength="93.8" lengthAdjust="spacingAndGlyphs" fill="#2a2a2a" stroke="#2a2a2a" stroke-width="0.14">LA (hexagonal difference in sec)</text>
<text transform="translate(471.10,13.90) scale(1.000,1)" font-size="8.60" text-anchor="middle" fill="#2a2a2a" stroke="#2a2a2a" stroke-width="0.14" >DRVVT</text>
<line x1="441.3" x2="500.9" y1="196.3" y2="196.3" stroke="#98bbdc" stroke-width="1.6"/>
<text transform="translate(504.10,198.80) scale(0.900,1)" font-size="7.00" text-anchor="start" fill="#2a2a2a" stroke="#2a2a2a" stroke-width="0.14" >1.2</text>
<circle cx="455.3" cy="193.8" r="1.45" fill="#a3d685" stroke="#58953c" stroke-width="0.6"/>
<circle cx="457.9" cy="194.2" r="1.45" fill="#a3d685" stroke="#58953c" stroke-width="0.6"/>
<circle cx="456.2" cy="195.4" r="1.45" fill="#a3d685" stroke="#58953c" stroke-width="0.6"/>
<circle cx="457.4" cy="195.0" r="1.45" fill="#a3d685" stroke="#58953c" stroke-width="0.6"/>
<circle cx="456.0" cy="196.9" r="1.45" fill="#a3d685" stroke="#58953c" stroke-width="0.6"/>
<circle cx="459.0" cy="196.9" r="1.45" fill="#a3d685" stroke="#58953c" stroke-width="0.6"/>
<circle cx="455.3" cy="198.2" r="1.45" fill="#a3d685" stroke="#58953c" stroke-width="0.6"/>
<circle cx="457.5" cy="198.3" r="1.45" fill="#a3d685" stroke="#58953c" stroke-width="0.6"/>
<circle cx="455.1" cy="199.3" r="1.45" fill="#a3d685" stroke="#58953c" stroke-width="0.6"/>
<circle cx="457.3" cy="199.9" r="1.45" fill="#a3d685" stroke="#58953c" stroke-width="0.6"/>
<circle cx="454.9" cy="201.2" r="1.45" fill="#a3d685" stroke="#58953c" stroke-width="0.6"/>
<circle cx="456.9" cy="200.8" r="1.45" fill="#a3d685" stroke="#58953c" stroke-width="0.6"/>
<circle cx="459.1" cy="200.9" r="1.45" fill="#a3d685" stroke="#58953c" stroke-width="0.6"/>
<circle cx="455.4" cy="202.4" r="1.45" fill="#a3d685" stroke="#58953c" stroke-width="0.6"/>
<circle cx="457.1" cy="202.6" r="1.45" fill="#a3d685" stroke="#58953c" stroke-width="0.6"/>
<circle cx="455.7" cy="203.3" r="1.45" fill="#a3d685" stroke="#58953c" stroke-width="0.6"/>
<circle cx="457.9" cy="204.1" r="1.45" fill="#a3d685" stroke="#58953c" stroke-width="0.6"/>
<circle cx="454.8" cy="204.8" r="1.45" fill="#a3d685" stroke="#58953c" stroke-width="0.6"/>
<circle cx="457.2" cy="204.8" r="1.45" fill="#a3d685" stroke="#58953c" stroke-width="0.6"/>
<circle cx="458.7" cy="205.2" r="1.45" fill="#a3d685" stroke="#58953c" stroke-width="0.6"/>
<circle cx="455.8" cy="206.8" r="1.45" fill="#a3d685" stroke="#58953c" stroke-width="0.6"/>
<circle cx="457.6" cy="206.7" r="1.45" fill="#a3d685" stroke="#58953c" stroke-width="0.6"/>
<circle cx="455.7" cy="207.5" r="1.45" fill="#a3d685" stroke="#58953c" stroke-width="0.6"/>
<circle cx="458.8" cy="208.2" r="1.45" fill="#a3d685" stroke="#58953c" stroke-width="0.6"/>
<circle cx="455.2" cy="209.4" r="1.45" fill="#a3d685" stroke="#58953c" stroke-width="0.6"/>
<circle cx="457.7" cy="209.1" r="1.45" fill="#a3d685" stroke="#58953c" stroke-width="0.6"/>
<circle cx="456.2" cy="210.3" r="1.45" fill="#a3d685" stroke="#58953c" stroke-width="0.6"/>
<circle cx="459.3" cy="210.3" r="1.45" fill="#a3d685" stroke="#58953c" stroke-width="0.6"/>
<circle cx="456.6" cy="212.3" r="1.45" fill="#a3d685" stroke="#58953c" stroke-width="0.6"/>
<circle cx="458.8" cy="211.9" r="1.45" fill="#a3d685" stroke="#58953c" stroke-width="0.6"/>
<circle cx="456.8" cy="213.1" r="1.45" fill="#a3d685" stroke="#58953c" stroke-width="0.6"/>
<circle cx="459.2" cy="213.5" r="1.45" fill="#a3d685" stroke="#58953c" stroke-width="0.6"/>
<circle cx="456.8" cy="215.0" r="1.45" fill="#a3d685" stroke="#58953c" stroke-width="0.6"/>
<circle cx="460.0" cy="214.9" r="1.45" fill="#a3d685" stroke="#58953c" stroke-width="0.6"/>
<circle cx="453.2" cy="109.2" r="1.35" fill="none" stroke="#627f50" stroke-width="0.85"/>
<circle cx="458.0" cy="117.2" r="1.35" fill="none" stroke="#627f50" stroke-width="0.85"/>
<circle cx="459.3" cy="117.5" r="1.35" fill="none" stroke="#627f50" stroke-width="0.85"/>
<circle cx="454.5" cy="145.4" r="1.35" fill="none" stroke="#627f50" stroke-width="0.85"/>
<circle cx="455.6" cy="152.6" r="1.35" fill="none" stroke="#627f50" stroke-width="0.85"/>
<circle cx="457.4" cy="159.2" r="1.35" fill="none" stroke="#627f50" stroke-width="0.85"/>
<circle cx="458.0" cy="174.0" r="1.35" fill="#9fd27b" stroke="#627f50" stroke-width="0.85"/>
<circle cx="461.1" cy="174.0" r="1.35" fill="#9fd27b" stroke="#627f50" stroke-width="0.85"/>
<circle cx="453.7" cy="177.3" r="1.35" fill="#9fd27b" stroke="#627f50" stroke-width="0.85"/>
<circle cx="456.3" cy="179.5" r="1.35" fill="#9fd27b" stroke="#627f50" stroke-width="0.85"/>
<circle cx="454.5" cy="182.8" r="1.35" fill="#9fd27b" stroke="#627f50" stroke-width="0.85"/>
<circle cx="456.7" cy="183.8" r="1.35" fill="#9fd27b" stroke="#627f50" stroke-width="0.85"/>
<circle cx="456.4" cy="191.2" r="1.35" fill="#9fd27b" stroke="#627f50" stroke-width="0.85"/>
<circle cx="457.7" cy="219.1" r="1.35" fill="none" stroke="#627f50" stroke-width="0.85"/>
<circle cx="459.8" cy="218.5" r="1.35" fill="none" stroke="#627f50" stroke-width="0.85"/>
<circle cx="487.2" cy="49.6" r="1.25" fill="#6a0726" stroke="#a30f40" stroke-width="0.6"/>
<circle cx="487.3" cy="103.3" r="1.25" fill="#6a0726" stroke="#a30f40" stroke-width="0.6"/>
<circle cx="484.7" cy="183.8" r="1.25" fill="#6a0726" stroke="#a30f40" stroke-width="0.6"/>
<circle cx="488.6" cy="188.5" r="1.25" fill="#6a0726" stroke="#a30f40" stroke-width="0.6"/>
<circle cx="486.5" cy="195.0" r="1.25" fill="#6a0726" stroke="#a30f40" stroke-width="0.6"/>
<circle cx="487.7" cy="202.3" r="1.25" fill="#6a0726" stroke="#a30f40" stroke-width="0.6"/>
<circle cx="485.0" cy="204.6" r="1.25" fill="#6a0726" stroke="#a30f40" stroke-width="0.6"/>
<circle cx="489.5" cy="205.9" r="1.25" fill="#6a0726" stroke="#a30f40" stroke-width="0.6"/>
<circle cx="486.8" cy="206.5" r="1.25" fill="#6a0726" stroke="#a30f40" stroke-width="0.6"/>
<circle cx="484.6" cy="211.4" r="1.25" fill="#6a0726" stroke="#a30f40" stroke-width="0.6"/>
<circle cx="486.8" cy="211.9" r="1.25" fill="#6a0726" stroke="#a30f40" stroke-width="0.6"/>
<line x1="446.7" x2="468.5" y1="203.5" y2="203.5" stroke="#314262" stroke-width="1.5"/>
<line x1="475.9" x2="496.5" y1="203.1" y2="203.1" stroke="#314262" stroke-width="1.5"/>
<rect x="441.30" y="19.20" width="59.60" height="223.40" fill="none" stroke="#111" stroke-width="1.55"/>
<line x1="438.1" x2="441.3" y1="238.40" y2="238.40" stroke="#111" stroke-width="1.2"/>
<text transform="translate(434.70,240.95) scale(0.860,1)" font-size="7.10" text-anchor="end" fill="#2a2a2a" stroke="#2a2a2a" stroke-width="0.14" >0</text>
<line x1="438.1" x2="441.3" y1="202.85" y2="202.85" stroke="#111" stroke-width="1.2"/>
<text transform="translate(434.70,205.40) scale(0.860,1)" font-size="7.10" text-anchor="end" fill="#2a2a2a" stroke="#2a2a2a" stroke-width="0.14" >1</text>
<line x1="438.1" x2="441.3" y1="167.30" y2="167.30" stroke="#111" stroke-width="1.2"/>
<text transform="translate(434.70,169.85) scale(0.860,1)" font-size="7.10" text-anchor="end" fill="#2a2a2a" stroke="#2a2a2a" stroke-width="0.14" >2</text>
<line x1="438.1" x2="441.3" y1="131.75" y2="131.75" stroke="#111" stroke-width="1.2"/>
<text transform="translate(434.70,134.30) scale(0.860,1)" font-size="7.10" text-anchor="end" fill="#2a2a2a" stroke="#2a2a2a" stroke-width="0.14" >3</text>
<line x1="438.1" x2="441.3" y1="96.20" y2="96.20" stroke="#111" stroke-width="1.2"/>
<text transform="translate(434.70,98.75) scale(0.860,1)" font-size="7.10" text-anchor="end" fill="#2a2a2a" stroke="#2a2a2a" stroke-width="0.14" >4</text>
<line x1="438.1" x2="441.3" y1="60.65" y2="60.65" stroke="#111" stroke-width="1.2"/>
<text transform="translate(434.70,63.20) scale(0.860,1)" font-size="7.10" text-anchor="end" fill="#2a2a2a" stroke="#2a2a2a" stroke-width="0.14" >5</text>
<line x1="438.1" x2="441.3" y1="25.10" y2="25.10" stroke="#111" stroke-width="1.2"/>
<text transform="translate(434.70,27.65) scale(0.860,1)" font-size="7.10" text-anchor="end" fill="#2a2a2a" stroke="#2a2a2a" stroke-width="0.14" >6</text>
<line x1="456.8" x2="456.8" y1="242.6" y2="245.6" stroke="#111" stroke-width="1.2"/>
<text transform="translate(456.80,254.45) scale(1.000,1)" font-size="6.60" text-anchor="middle" fill="#2a2a2a" stroke="#2a2a2a" stroke-width="0.14" textLength="8.3" lengthAdjust="spacingAndGlyphs">No</text>
<line x1="486.6" x2="486.6" y1="242.6" y2="245.6" stroke="#111" stroke-width="1.2"/>
<text transform="translate(486.60,254.45) scale(1.000,1)" font-size="6.60" text-anchor="middle" fill="#2a2a2a" stroke="#2a2a2a" stroke-width="0.14" textLength="9.0" lengthAdjust="spacingAndGlyphs">Yes</text>
<text transform="translate(471.10,266.00) scale(1.000,1)" font-size="8.50" text-anchor="middle" fill="#2a2a2a" stroke="#2a2a2a" stroke-width="0.14" textLength="40.5" lengthAdjust="spacingAndGlyphs">Recurrent VTE</text>
<text transform="translate(426.3,132.5) rotate(-90)" x="0" y="0" font-size="7.5" text-anchor="middle" textLength="50.6" lengthAdjust="spacingAndGlyphs" fill="#2a2a2a" stroke="#2a2a2a" stroke-width="0.14">LA (DRVVT ratio)</text>
<rect x="252.3" y="21.0" width="2.3" height="2.3" fill="#c9d2b0" stroke="#8d9b78" stroke-width="0.6"/>
<text transform="translate(255.60,27.20) scale(0.880,1)" font-size="7.00" text-anchor="start" fill="#2a2a2a" stroke="#2a2a2a" stroke-width="0.14" >108</text>
<rect x="0.5" y="0.5" width="518.8" height="273.8" fill="none" stroke="#000" stroke-width="1.3"/>
</svg></body></html>
